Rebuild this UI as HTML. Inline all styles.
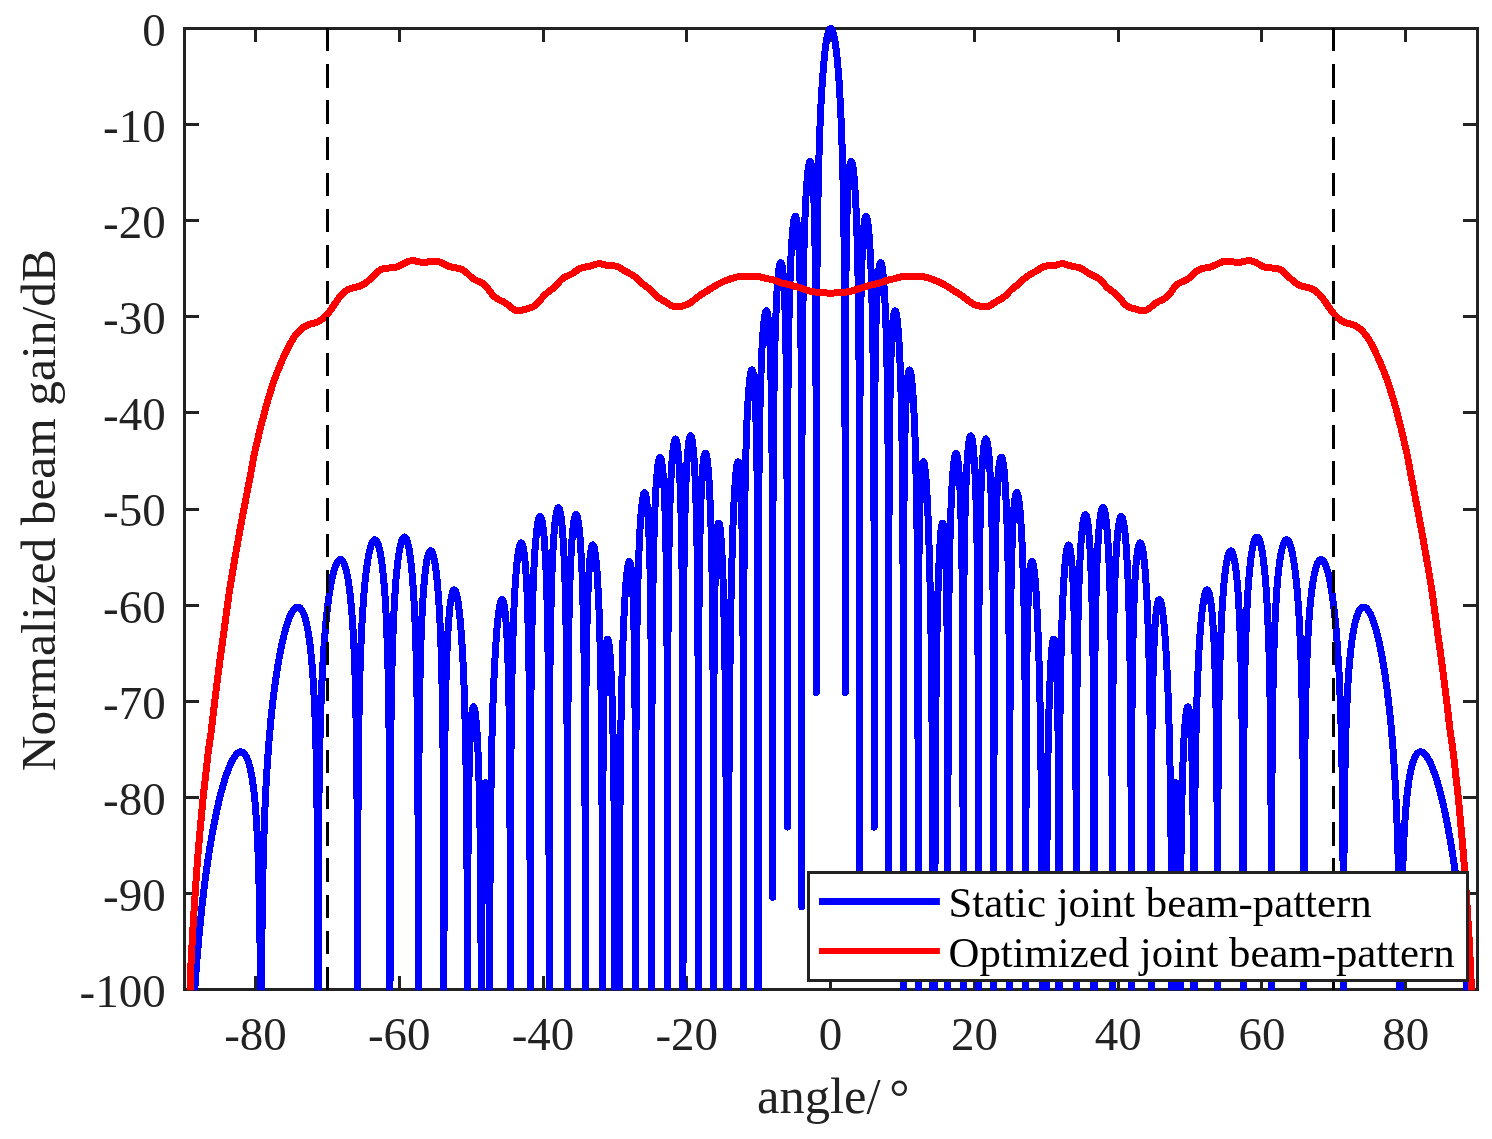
<!DOCTYPE html>
<html lang="en"><head><meta charset="utf-8"><title>Normalized beam gain</title>
<style>html,body{margin:0;padding:0;background:#fff}body{width:1492px;height:1139px;overflow:hidden}svg{display:block}</style>
</head><body>
<svg width="1492" height="1139" viewBox="0 0 1492 1139">
<defs><clipPath id="ax"><rect x="183.9" y="22.5" width="1294.2" height="967.7"/></clipPath></defs>
<rect width="1492" height="1139" fill="#fff"/>
<rect x="184.5" y="28.5" width="1293.0" height="961.0" fill="none" stroke="#222222" stroke-width="3.0"/>
<path d="M255.5 989.5V976.0M255.5 28.5V42.0M399.5 989.5V976.0M399.5 28.5V42.0M543.5 989.5V976.0M543.5 28.5V42.0M686.5 989.5V976.0M686.5 28.5V42.0M830.5 989.5V976.0M830.5 28.5V42.0M974.5 989.5V976.0M974.5 28.5V42.0M1118.5 989.5V976.0M1118.5 28.5V42.0M1261.5 989.5V976.0M1261.5 28.5V42.0M1405.5 989.5V976.0M1405.5 28.5V42.0M184.5 28.5H199.0M1477.5 28.5H1463.0M184.5 124.5H199.0M1477.5 124.5H1463.0M184.5 220.5H199.0M1477.5 220.5H1463.0M184.5 316.5H199.0M1477.5 316.5H1463.0M184.5 412.5H199.0M1477.5 412.5H1463.0M184.5 509.5H199.0M1477.5 509.5H1463.0M184.5 605.5H199.0M1477.5 605.5H1463.0M184.5 701.5H199.0M1477.5 701.5H1463.0M184.5 797.5H199.0M1477.5 797.5H1463.0M184.5 893.5H199.0M1477.5 893.5H1463.0M184.5 989.5H199.0M1477.5 989.5H1463.0" stroke="#222222" stroke-width="3.0" fill="none"/>
<g clip-path="url(#ax)" fill="none" stroke-linejoin="round" shape-rendering="crispEdges">
<polyline points="183.7,1325.8 184.1,1325.8 184.4,1325.8 184.8,1325.8 185.1,1325.8 185.5,1293.4 185.9,1263.0 186.2,1237.2 186.6,1214.9 186.9,1195.3 187.3,1177.7 187.7,1161.8 188.0,1147.2 188.4,1133.9 188.7,1121.5 189.1,1110.0 189.5,1099.2 189.8,1089.1 190.2,1079.6 190.5,1070.5 190.9,1062.0 191.2,1053.8 191.6,1046.1 192.0,1038.6 192.3,1031.5 192.7,1024.7 193.0,1018.2 193.4,1011.9 193.8,1005.8 194.1,1000.0 194.5,994.3 194.8,988.9 195.2,983.6 195.6,978.4 195.9,973.5 196.3,968.6 196.6,963.9 197.0,959.4 197.4,954.9 197.7,950.6 198.1,946.4 198.4,942.3 198.8,938.3 199.2,934.4 199.5,930.5 199.9,926.8 200.2,923.1 200.6,919.6 201.0,916.1 201.3,912.7 201.7,909.3 202.0,906.0 202.4,902.8 202.8,899.7 203.1,896.6 203.5,893.5 203.8,890.6 204.2,887.7 204.5,884.8 204.9,882.0 205.3,879.2 205.6,876.5 206.0,873.8 206.3,871.2 206.7,868.6 207.1,866.1 207.4,863.6 207.8,861.1 208.1,858.7 208.5,856.4 208.9,854.0 209.2,851.7 209.6,849.5 209.9,847.2 210.3,845.0 210.7,842.9 211.0,840.8 211.4,838.7 211.7,836.6 212.1,834.6 212.5,832.6 212.8,830.6 213.2,828.7 213.5,826.8 213.9,824.9 214.3,823.0 214.6,821.2 215.0,819.4 215.3,817.6 215.7,815.9 216.0,814.2 216.4,812.5 216.8,810.8 217.1,809.1 217.5,807.5 217.8,805.9 218.2,804.4 218.6,802.8 218.9,801.3 219.3,799.8 219.6,798.3 220.0,796.9 220.4,795.4 220.7,794.0 221.1,792.6 221.4,791.3 221.8,789.9 222.2,788.6 222.5,787.3 222.9,786.0 223.2,784.8 223.6,783.5 224.0,782.3 224.3,781.2 224.7,780.0 225.0,778.8 225.4,777.7 225.8,776.6 226.1,775.5 226.5,774.5 226.8,773.5 227.2,772.4 227.6,771.4 227.9,770.5 228.3,769.5 228.6,768.6 229.0,767.7 229.3,766.8 229.7,766.0 230.1,765.1 230.4,764.3 230.8,763.5 231.1,762.8 231.5,762.0 231.9,761.3 232.2,760.6 232.6,759.9 232.9,759.3 233.3,758.7 233.7,758.1 234.0,757.5 234.4,756.9 234.7,756.4 235.1,755.9 235.5,755.4 235.8,755.0 236.2,754.6 236.5,754.2 236.9,753.8 237.3,753.5 237.6,753.2 238.0,752.9 238.3,752.7 238.7,752.5 239.1,752.3 239.4,752.1 239.8,752.0 240.1,751.9 240.5,751.9 240.9,751.9 241.2,751.9 241.6,752.0 241.9,752.1 242.3,752.2 242.6,752.4 243.0,752.6 243.4,752.9 243.7,753.2 244.1,753.5 244.4,753.9 244.8,754.4 245.2,754.9 245.5,755.4 245.9,756.0 246.2,756.7 246.6,757.4 247.0,758.2 247.3,759.0 247.7,760.0 248.0,760.9 248.4,762.0 248.8,763.1 249.1,764.4 249.5,765.7 249.8,767.1 250.2,768.5 250.6,770.1 250.9,771.8 251.3,773.7 251.6,775.6 252.0,777.7 252.4,779.9 252.7,782.3 253.1,784.8 253.4,787.5 253.8,790.5 254.2,793.6 254.5,797.0 254.9,800.7 255.2,804.6 255.6,808.9 255.9,813.6 256.3,818.7 256.7,824.3 257.0,830.5 257.4,837.5 257.7,845.2 258.1,854.1 258.5,864.2 258.8,876.2 259.2,890.5 259.3,897.1 259.5,904.3 259.6,912.4 259.8,921.3 259.9,931.5 260.0,943.2 260.2,957.0 260.3,973.6 260.5,994.7 260.6,1023.3 260.8,1067.6 260.9,1170.1 261.0,1325.8 261.1,1139.9 261.2,1056.6 261.3,1015.5 261.5,987.8 261.6,966.9 261.8,950.1 261.9,936.0 262.1,923.8 262.2,913.1 262.3,903.6 262.5,894.9 262.6,887.0 262.8,879.7 263.1,863.7 263.5,850.0 263.9,838.1 264.2,827.4 264.6,817.8 264.9,809.0 265.3,800.9 265.7,793.5 266.0,786.5 266.4,779.9 266.7,773.8 267.1,767.9 267.5,762.4 267.8,757.1 268.2,752.1 268.5,747.3 268.9,742.7 269.2,738.3 269.6,734.1 270.0,730.0 270.3,726.0 270.7,722.2 271.0,718.5 271.4,715.0 271.8,711.5 272.1,708.2 272.5,704.9 272.8,701.8 273.2,698.7 273.6,695.7 273.9,692.8 274.3,690.0 274.6,687.2 275.0,684.6 275.4,681.9 275.7,679.4 276.1,676.9 276.4,674.5 276.8,672.1 277.2,669.8 277.5,667.6 277.9,665.4 278.2,663.2 278.6,661.1 279.0,659.1 279.3,657.1 279.7,655.1 280.0,653.2 280.4,651.4 280.8,649.6 281.1,647.8 281.5,646.1 281.8,644.4 282.2,642.7 282.5,641.1 282.9,639.6 283.3,638.0 283.6,636.5 284.0,635.1 284.3,633.7 284.7,632.3 285.1,631.0 285.4,629.7 285.8,628.4 286.1,627.2 286.5,626.0 286.9,624.8 287.2,623.7 287.6,622.6 287.9,621.6 288.3,620.6 288.7,619.6 289.0,618.6 289.4,617.7 289.7,616.9 290.1,616.0 290.5,615.2 290.8,614.4 291.2,613.7 291.5,613.0 291.9,612.4 292.3,611.7 292.6,611.2 293.0,610.6 293.3,610.1 293.7,609.6 294.0,609.2 294.4,608.8 294.8,608.4 295.1,608.1 295.5,607.8 295.8,607.6 296.2,607.4 296.6,607.2 296.9,607.1 297.3,607.0 297.6,607.0 298.0,607.0 298.4,607.1 298.7,607.2 299.1,607.4 299.4,607.6 299.8,607.8 300.2,608.1 300.5,608.5 300.9,608.9 301.2,609.3 301.6,609.8 302.0,610.4 302.3,611.0 302.7,611.7 303.0,612.5 303.4,613.3 303.8,614.2 304.1,615.2 304.5,616.2 304.8,617.3 305.2,618.5 305.6,619.8 305.9,621.2 306.3,622.6 306.6,624.2 307.0,625.8 307.3,627.6 307.7,629.5 308.1,631.5 308.4,633.6 308.8,635.8 309.1,638.2 309.5,640.8 309.9,643.5 310.2,646.5 310.6,649.6 310.9,652.9 311.3,656.5 311.7,660.3 312.0,664.4 312.4,668.9 312.7,673.7 313.1,679.0 313.5,684.7 313.8,691.0 314.2,697.9 314.5,705.7 314.9,714.4 315.3,724.3 315.6,735.7 316.0,749.2 316.3,762.0 316.4,769.3 316.6,777.4 316.7,786.3 316.8,796.5 317.0,808.0 317.1,821.6 317.3,837.8 317.4,858.1 317.6,885.2 317.7,925.8 317.8,1008.8 317.9,1325.8 318.0,1037.5 318.1,934.8 318.3,890.0 318.4,860.9 318.6,839.2 318.7,822.0 318.9,807.7 319.0,795.4 319.1,784.7 319.3,775.2 319.4,766.6 319.6,758.7 319.7,751.6 319.9,741.8 320.3,727.7 320.6,715.5 321.0,704.8 321.4,695.3 321.7,686.7 322.1,678.8 322.4,671.7 322.8,665.1 323.2,658.9 323.5,653.2 323.9,647.8 324.2,642.8 324.6,638.1 325.0,633.6 325.3,629.4 325.7,625.4 326.0,621.6 326.4,617.9 326.8,614.5 327.1,611.2 327.5,608.1 327.8,605.1 328.2,602.2 328.6,599.5 328.9,596.9 329.3,594.4 329.6,592.1 330.0,589.8 330.4,587.6 330.7,585.6 331.1,583.6 331.4,581.7 331.8,579.9 332.2,578.2 332.5,576.6 332.9,575.0 333.2,573.6 333.6,572.2 333.9,570.9 334.3,569.6 334.7,568.5 335.0,567.4 335.4,566.4 335.7,565.4 336.1,564.6 336.5,563.8 336.8,563.0 337.2,562.4 337.5,561.8 337.9,561.2 338.3,560.8 338.6,560.4 339.0,560.1 339.3,559.9 339.7,559.7 340.1,559.6 340.4,559.6 340.8,559.6 341.1,559.7 341.5,559.9 341.9,560.2 342.2,560.6 342.6,561.0 342.9,561.5 343.3,562.1 343.7,562.8 344.0,563.6 344.4,564.5 344.7,565.4 345.1,566.5 345.5,567.6 345.8,568.9 346.2,570.3 346.5,571.8 346.9,573.4 347.2,575.1 347.6,577.0 348.0,579.0 348.3,581.1 348.7,583.5 349.0,585.9 349.4,588.6 349.8,591.5 350.1,594.5 350.5,597.8 350.8,601.4 351.2,605.2 351.6,609.3 351.9,613.7 352.3,618.5 352.6,623.8 353.0,629.5 353.4,635.8 353.7,642.8 354.1,650.5 354.4,659.2 354.8,669.0 355.2,680.4 355.5,693.8 355.8,706.4 355.9,713.6 356.1,721.5 356.2,730.2 356.4,740.0 356.5,751.2 356.7,764.2 356.8,779.6 357.0,798.6 357.1,823.4 357.2,858.9 357.4,922.3 357.5,1325.8 357.5,1086.3 357.7,901.5 357.8,848.2 358.0,815.9 358.1,792.6 358.2,774.4 358.4,759.4 358.5,746.7 358.7,735.7 358.8,725.9 359.0,717.2 359.1,709.2 359.3,702.0 359.5,692.2 359.8,678.0 360.2,665.9 360.5,655.4 360.9,646.0 361.3,637.6 361.6,630.1 362.0,623.2 362.3,616.9 362.7,611.0 363.1,605.6 363.4,600.6 363.8,596.0 364.1,591.6 364.5,587.5 364.9,583.7 365.2,580.2 365.6,576.8 365.9,573.6 366.3,570.7 366.7,567.9 367.0,565.3 367.4,562.8 367.7,560.5 368.1,558.4 368.5,556.3 368.8,554.4 369.2,552.7 369.5,551.1 369.9,549.5 370.3,548.1 370.6,546.9 371.0,545.7 371.3,544.6 371.7,543.7 372.0,542.8 372.4,542.1 372.8,541.4 373.1,540.9 373.5,540.5 373.8,540.2 374.2,539.9 374.6,539.8 374.9,539.8 375.3,539.9 375.6,540.1 376.0,540.4 376.4,540.8 376.7,541.3 377.1,541.9 377.4,542.7 377.8,543.5 378.2,544.5 378.5,545.6 378.9,546.9 379.2,548.3 379.6,549.8 380.0,551.4 380.3,553.2 380.7,555.2 381.0,557.3 381.4,559.7 381.8,562.2 382.1,564.9 382.5,567.8 382.8,571.0 383.2,574.4 383.6,578.1 383.9,582.1 384.3,586.4 384.6,591.1 385.0,596.2 385.3,601.8 385.7,607.9 386.1,614.7 386.4,622.2 386.8,630.6 387.1,640.2 387.5,651.1 387.9,663.8 388.3,682.4 388.4,689.8 388.6,697.8 388.7,706.8 388.9,716.9 389.0,728.4 389.2,741.7 389.3,757.7 389.4,777.5 389.6,803.6 389.7,841.8 389.9,914.4 390.0,1325.8 390.0,993.4 390.2,866.4 390.3,818.1 390.5,787.8 390.6,765.5 390.7,748.0 390.9,733.5 391.0,721.2 391.2,710.4 391.3,700.9 391.5,692.4 391.6,684.7 391.7,677.7 391.8,674.3 392.2,659.6 392.5,647.1 392.9,636.3 393.3,626.9 393.6,618.5 394.0,611.0 394.3,604.2 394.7,598.0 395.1,592.4 395.4,587.2 395.8,582.5 396.1,578.1 396.5,574.0 396.9,570.2 397.2,566.8 397.6,563.6 397.9,560.6 398.3,557.8 398.6,555.3 399.0,552.9 399.4,550.8 399.7,548.8 400.1,547.0 400.4,545.3 400.8,543.9 401.2,542.5 401.5,541.4 401.9,540.3 402.2,539.4 402.6,538.7 403.0,538.1 403.3,537.6 403.7,537.3 404.0,537.1 404.4,537.0 404.8,537.1 405.1,537.3 405.5,537.6 405.8,538.1 406.2,538.7 406.6,539.5 406.9,540.4 407.3,541.5 407.6,542.7 408.0,544.1 408.4,545.6 408.7,547.3 409.1,549.2 409.4,551.3 409.8,553.5 410.1,556.0 410.5,558.7 410.9,561.6 411.2,564.8 411.6,568.3 411.9,572.0 412.3,576.1 412.7,580.5 413.0,585.3 413.4,590.5 413.7,596.3 414.1,602.6 414.5,609.6 414.8,617.3 415.2,626.0 415.5,635.8 415.9,647.1 416.3,660.3 416.6,676.2 416.8,683.5 416.9,691.5 417.1,700.5 417.2,710.4 417.3,721.8 417.5,735.0 417.6,750.7 417.8,770.0 417.9,795.1 418.1,831.3 418.2,896.6 418.3,1325.8 418.3,1038.1 418.5,870.6 418.6,818.6 418.8,786.8 418.9,763.9 419.1,746.0 419.2,731.3 419.4,718.9 419.5,708.1 419.6,698.5 419.8,690.0 419.9,682.3 420.1,675.3 420.2,668.9 420.6,654.8 420.9,642.9 421.3,632.7 421.7,623.8 422.0,615.9 422.4,608.8 422.7,602.5 423.1,596.8 423.4,591.6 423.8,586.9 424.2,582.6 424.5,578.7 424.9,575.2 425.2,572.0 425.6,569.0 426.0,566.3 426.3,563.9 426.7,561.7 427.0,559.8 427.4,558.0 427.8,556.5 428.1,555.1 428.5,554.0 428.8,553.0 429.2,552.2 429.6,551.6 429.9,551.2 430.3,550.9 430.6,550.8 431.0,550.9 431.4,551.1 431.7,551.5 432.1,552.1 432.4,552.9 432.8,553.8 433.2,554.9 433.5,556.2 433.9,557.6 434.2,559.3 434.6,561.1 435.0,563.2 435.3,565.4 435.7,567.9 436.0,570.6 436.4,573.6 436.7,576.8 437.1,580.4 437.5,584.2 437.8,588.3 438.2,592.9 438.5,597.8 438.9,603.1 439.3,609.0 439.6,615.4 440.0,622.5 440.3,630.4 440.7,639.2 441.1,649.1 441.4,660.5 441.8,673.7 442.2,692.9 442.4,700.4 442.5,708.7 442.6,717.9 442.8,728.2 442.9,739.9 443.1,753.5 443.2,769.7 443.4,789.7 443.5,816.0 443.7,854.4 443.8,927.1 443.9,1325.8 443.9,1007.1 444.1,879.9 444.2,831.9 444.4,801.8 444.5,779.8 444.7,762.5 444.8,748.3 444.9,736.3 445.1,725.8 445.2,716.6 445.4,708.4 445.5,701.0 445.7,694.2 445.7,691.0 446.1,677.0 446.5,665.4 446.8,655.5 447.2,646.9 447.5,639.4 447.9,632.8 448.3,627.0 448.6,621.8 449.0,617.2 449.3,613.0 449.7,609.4 450.0,606.1 450.4,603.2 450.8,600.6 451.1,598.4 451.5,596.4 451.8,594.8 452.2,593.4 452.6,592.2 452.9,591.3 453.3,590.6 453.6,590.2 454.0,589.9 454.4,589.9 454.7,590.1 455.1,590.5 455.4,591.1 455.8,592.0 456.2,593.0 456.5,594.3 456.9,595.7 457.2,597.4 457.6,599.3 458.0,601.4 458.3,603.8 458.7,606.4 459.0,609.2 459.4,612.3 459.8,615.7 460.1,619.4 460.5,623.3 460.8,627.6 461.2,632.3 461.6,637.3 461.9,642.7 462.3,648.6 462.6,655.0 463.0,661.9 463.3,669.5 463.7,677.9 464.1,687.1 464.4,697.4 464.8,708.9 465.1,722.1 465.5,737.4 465.8,751.8 465.9,759.9 466.1,768.7 466.2,778.5 466.4,789.4 466.5,801.8 466.7,816.1 466.8,833.1 466.9,854.1 467.1,881.8 467.2,922.6 467.4,1003.1 467.5,1325.8 467.5,1046.5 467.7,938.8 467.8,894.1 467.9,865.6 468.1,844.8 468.2,828.5 468.4,815.1 468.5,803.9 468.7,794.2 468.8,785.8 469.0,778.3 469.1,771.7 469.2,765.7 469.5,757.7 469.8,746.7 470.2,737.7 470.5,730.5 470.9,724.5 471.3,719.6 471.6,715.7 472.0,712.6 472.3,710.2 472.7,708.5 473.1,707.4 473.4,706.8 473.8,706.9 474.1,707.5 474.5,708.6 474.9,710.3 475.2,712.5 475.6,715.2 475.9,718.6 476.3,722.5 476.6,727.1 477.0,732.5 477.4,738.6 477.7,745.6 478.1,753.6 478.4,762.9 478.8,773.6 479.2,786.2 479.5,801.3 479.6,804.6 479.7,811.8 479.9,819.7 480.0,828.3 480.2,837.9 480.3,848.8 480.5,861.1 480.6,875.5 480.7,892.8 480.9,914.4 481.0,943.2 481.2,986.9 481.3,1081.4 481.4,1325.8 481.5,1075.7 481.6,986.8 481.8,945.4 481.9,918.2 482.0,898.2 482.2,882.4 482.3,869.5 482.5,858.6 482.6,849.2 482.8,841.0 482.9,833.8 483.0,827.4 483.5,812.1 483.8,802.5 484.2,795.2 484.6,789.7 484.9,785.9 485.3,783.5 485.6,782.6 486.0,783.0 486.4,784.9 486.7,788.5 487.1,793.9 487.4,801.6 487.8,812.2 487.9,817.5 488.1,823.6 488.2,830.6 488.4,838.7 488.5,848.3 488.7,859.7 488.8,873.6 488.9,891.2 489.1,914.7 489.2,949.2 489.4,1012.8 489.5,1325.8 489.5,1152.8 489.7,983.7 489.8,930.1 489.9,896.9 490.1,872.5 490.2,853.2 490.4,837.0 490.5,823.2 490.7,811.0 490.8,800.1 491.0,790.3 491.1,781.3 491.2,773.0 491.4,765.3 491.7,748.2 492.1,733.4 492.5,720.4 492.8,708.8 493.2,698.3 493.5,688.8 493.9,680.2 494.3,672.2 494.6,664.9 495.0,658.1 495.3,651.9 495.7,646.1 496.1,640.7 496.4,635.8 496.8,631.2 497.1,627.0 497.5,623.1 497.9,619.5 498.2,616.3 498.6,613.4 498.9,610.7 499.3,608.3 499.7,606.3 500.0,604.5 500.4,602.9 500.7,601.7 501.1,600.7 501.4,600.1 501.8,599.7 502.2,599.6 502.5,599.8 502.9,600.3 503.2,601.2 503.6,602.4 504.0,603.9 504.3,605.9 504.7,608.3 505.0,611.1 505.4,614.5 505.8,618.4 506.1,623.0 506.5,628.2 506.8,634.4 507.2,641.5 507.6,649.9 507.9,659.8 508.3,671.7 508.6,686.4 508.8,693.4 508.9,701.0 509.1,709.7 509.2,719.4 509.4,730.6 509.5,743.8 509.6,759.7 509.8,779.7 509.9,806.3 510.1,846.3 510.2,927.5 510.3,1325.8 510.4,962.1 510.5,856.6 510.7,811.1 510.8,781.6 510.9,759.7 511.1,742.3 511.2,727.8 511.4,715.3 511.5,704.5 511.7,694.8 511.8,686.1 511.9,678.2 512.1,670.9 512.2,664.2 512.6,649.5 513.0,636.9 513.3,626.0 513.7,616.4 514.0,607.9 514.4,600.3 514.7,593.4 515.1,587.2 515.5,581.5 515.8,576.4 516.2,571.8 516.5,567.6 516.9,563.7 517.3,560.3 517.6,557.2 518.0,554.4 518.3,552.0 518.7,549.8 519.1,548.0 519.4,546.4 519.8,545.1 520.1,544.1 520.5,543.4 520.9,543.0 521.2,542.8 521.6,543.0 521.9,543.4 522.3,544.1 522.7,545.2 523.0,546.6 523.4,548.3 523.7,550.3 524.1,552.8 524.5,555.7 524.8,559.0 525.2,562.8 525.5,567.2 525.9,572.2 526.3,577.9 526.6,584.4 527.0,591.9 527.3,600.7 527.7,610.8 528.0,623.0 528.3,634.5 528.5,641.1 528.6,648.3 528.8,656.3 528.9,665.2 529.1,675.4 529.2,687.0 529.3,700.7 529.5,717.2 529.6,738.0 529.8,766.0 529.9,808.7 530.1,902.0 530.1,1325.8 530.2,896.5 530.3,806.3 530.5,763.9 530.6,735.8 530.8,714.7 530.9,697.9 531.1,683.9 531.2,671.9 531.4,661.4 531.5,652.0 531.6,643.7 531.8,636.0 532.0,625.8 532.4,611.2 532.7,598.9 533.1,588.3 533.4,579.1 533.8,571.0 534.2,563.8 534.5,557.3 534.9,551.6 535.2,546.4 535.6,541.8 536.0,537.7 536.3,534.0 536.7,530.7 537.0,527.8 537.4,525.3 537.8,523.1 538.1,521.2 538.5,519.7 538.8,518.4 539.2,517.5 539.6,516.9 539.9,516.6 540.3,516.5 540.6,516.8 541.0,517.4 541.3,518.3 541.7,519.6 542.1,521.1 542.4,523.1 542.8,525.4 543.1,528.1 543.5,531.2 543.9,534.8 544.2,538.9 544.6,543.6 544.9,548.9 545.3,555.0 545.7,561.9 546.0,569.8 546.4,578.9 546.7,589.6 547.1,602.3 547.5,617.8 547.6,625.0 547.7,632.9 547.9,641.8 548.0,651.8 548.2,663.3 548.3,676.7 548.5,692.7 548.6,712.7 548.8,739.2 548.9,778.3 549.0,854.9 549.1,1325.8 549.2,911.8 549.3,796.4 549.5,749.7 549.6,720.0 549.8,698.1 549.9,680.7 550.0,666.4 550.2,654.2 550.3,643.6 550.5,634.2 550.6,625.8 550.8,618.2 550.9,611.3 551.1,604.9 551.4,591.0 551.8,579.3 552.1,569.3 552.5,560.6 552.8,553.0 553.2,546.3 553.6,540.4 553.9,535.1 554.3,530.5 554.6,526.4 555.0,522.7 555.4,519.6 555.7,516.8 556.1,514.4 556.4,512.4 556.8,510.8 557.2,509.5 557.5,508.5 557.9,507.9 558.2,507.6 558.6,507.6 559.0,508.0 559.3,508.6 559.7,509.7 560.0,511.0 560.4,512.7 560.8,514.8 561.1,517.2 561.5,520.1 561.8,523.4 562.2,527.2 562.6,531.6 562.9,536.5 563.3,542.0 563.6,548.3 564.0,555.5 564.4,563.7 564.7,573.1 565.1,584.2 565.4,597.2 565.7,609.7 565.9,616.7 566.0,624.5 566.1,633.1 566.3,642.8 566.4,653.7 566.6,666.4 566.7,681.5 566.9,699.8 567.0,723.5 567.2,756.7 567.3,812.5 567.4,1067.6 567.4,1325.8 567.6,820.9 567.7,761.0 567.9,726.5 568.0,702.3 568.2,683.5 568.3,668.3 568.4,655.5 568.6,644.5 568.7,634.8 568.9,626.2 569.0,618.4 569.2,611.4 569.4,602.0 569.7,588.6 570.1,577.3 570.5,567.8 570.8,559.6 571.2,552.4 571.5,546.2 571.9,540.7 572.3,535.9 572.6,531.8 573.0,528.1 573.3,525.0 573.7,522.3 574.1,520.1 574.4,518.3 574.8,516.8 575.1,515.8 575.5,515.1 575.9,514.7 576.2,514.7 576.6,515.1 576.9,515.8 577.3,516.8 577.7,518.3 578.0,520.0 578.4,522.2 578.7,524.8 579.1,527.8 579.4,531.2 579.8,535.1 580.2,539.5 580.5,544.6 580.9,550.2 581.2,556.6 581.6,563.8 582.0,572.0 582.3,581.4 582.7,592.3 583.0,605.0 583.4,620.3 583.5,627.3 583.7,635.0 583.8,643.6 584.0,653.0 584.1,663.8 584.3,676.1 584.4,690.5 584.6,707.9 584.7,729.8 584.8,759.5 585.0,805.9 585.1,918.1 585.2,1325.8 585.3,868.2 585.4,790.3 585.6,751.0 585.7,724.5 585.8,704.6 586.0,688.7 586.1,675.5 586.3,664.2 586.4,654.3 586.6,645.6 586.7,637.8 586.9,630.8 587.0,624.4 587.4,610.7 587.7,599.4 588.1,590.0 588.4,582.0 588.8,575.1 589.2,569.3 589.5,564.2 589.9,559.9 590.2,556.3 590.6,553.2 591.0,550.7 591.3,548.6 591.7,547.1 592.0,545.9 592.4,545.2 592.7,544.9 593.1,545.0 593.5,545.5 593.8,546.4 594.2,547.6 594.5,549.3 594.9,551.3 595.3,553.7 595.6,556.6 596.0,559.9 596.3,563.6 596.7,567.8 597.1,572.6 597.4,577.9 597.8,583.8 598.1,590.4 598.5,597.8 598.9,606.0 599.2,615.3 599.6,625.9 599.9,638.0 600.3,652.0 600.7,668.7 600.8,676.3 600.9,684.7 601.1,693.9 601.2,704.1 601.4,715.6 601.5,728.8 601.7,744.3 601.8,762.9 601.9,786.6 602.1,819.2 602.2,871.9 602.4,1039.6 602.4,1325.8 602.5,900.0 602.7,835.6 602.8,800.3 603.0,776.1 603.1,757.7 603.2,743.0 603.4,730.9 603.5,720.6 603.7,711.6 603.8,703.8 604.0,696.9 604.1,690.7 604.2,685.2 604.6,673.6 605.0,664.4 605.3,657.2 605.7,651.5 606.0,647.0 606.4,643.7 606.8,641.2 607.1,639.7 607.5,639.0 607.8,639.0 608.2,639.8 608.6,641.3 608.9,643.4 609.3,646.4 609.6,650.0 610.0,654.4 610.4,659.7 610.7,665.8 611.1,672.9 611.4,681.0 611.8,690.4 612.2,701.2 612.5,713.7 612.9,728.4 613.3,749.7 613.5,758.1 613.6,767.2 613.7,777.2 613.9,788.3 614.0,800.9 614.2,815.2 614.3,832.0 614.5,852.3 614.6,878.1 614.7,913.9 614.9,973.7 615.0,1325.8 615.2,978.1 615.3,922.6 615.5,891.2 615.6,869.9 615.8,854.0 615.9,841.8 616.0,832.1 616.2,824.3 616.3,818.0 616.5,813.0 616.6,809.1 616.8,806.2 616.8,805.1 617.2,802.6 617.5,804.4 617.6,806.6 617.8,809.8 617.9,814.1 618.1,819.6 618.2,826.7 618.3,835.8 618.5,847.5 618.6,862.8 618.8,883.8 618.9,915.4 619.1,973.0 619.2,1325.8 619.2,1190.4 619.3,955.9 619.5,897.9 619.6,862.3 619.8,836.2 619.9,815.3 620.1,797.9 620.2,782.9 620.4,769.6 620.5,757.7 620.6,746.9 620.8,737.0 620.9,727.9 621.1,715.4 621.5,697.1 621.9,681.2 622.2,667.2 622.6,654.8 622.9,643.6 623.3,633.6 623.7,624.4 624.0,616.2 624.4,608.6 624.7,601.8 625.1,595.6 625.5,590.0 625.8,584.9 626.2,580.4 626.5,576.4 626.9,572.9 627.3,569.8 627.6,567.2 628.0,565.1 628.3,563.5 628.7,562.3 629.1,561.6 629.4,561.4 629.8,561.7 630.1,562.6 630.5,564.0 630.8,566.1 631.2,568.8 631.6,572.3 631.9,576.7 632.3,582.0 632.6,588.5 633.0,596.5 633.4,606.2 633.7,618.2 633.9,623.9 634.0,630.2 634.2,637.2 634.3,645.0 634.4,653.9 634.6,664.1 634.7,676.0 634.9,690.2 635.0,707.7 635.2,730.5 635.3,762.5 635.4,816.4 635.6,1029.7 635.6,1325.8 635.7,829.1 635.9,766.9 636.0,731.3 636.2,706.1 636.3,686.6 636.5,670.7 636.6,657.2 636.7,645.5 636.9,635.1 637.0,625.9 637.2,617.5 637.3,609.9 637.7,593.2 638.0,579.3 638.4,567.4 638.8,557.1 639.1,548.0 639.5,540.0 639.8,532.8 640.2,526.5 640.6,520.8 640.9,515.8 641.3,511.4 641.6,507.4 642.0,504.0 642.4,501.1 642.7,498.6 643.1,496.5 643.4,494.9 643.8,493.7 644.1,493.0 644.5,492.6 644.9,492.8 645.2,493.3 645.6,494.3 645.9,495.9 646.3,497.9 646.7,500.5 647.0,503.7 647.4,507.6 647.7,512.3 648.1,517.8 648.5,524.3 648.8,532.0 649.2,541.2 649.5,552.3 650.0,569.1 650.1,575.8 650.3,583.2 650.4,591.5 650.5,600.8 650.7,611.5 650.8,624.0 651.0,638.9 651.1,657.3 651.3,681.3 651.4,715.5 651.6,775.3 651.7,1325.8 651.7,1015.4 651.8,765.8 652.0,709.8 652.1,676.4 652.3,652.5 652.4,633.9 652.6,618.6 652.7,605.7 652.8,594.4 653.0,584.5 653.1,575.7 653.3,567.7 653.4,560.4 653.5,557.0 653.9,541.9 654.2,529.2 654.6,518.4 654.9,509.1 655.3,501.0 655.7,493.9 656.0,487.6 656.4,482.1 656.7,477.3 657.1,473.0 657.4,469.4 657.8,466.2 658.2,463.6 658.5,461.4 658.9,459.7 659.2,458.4 659.6,457.6 660.0,457.2 660.3,457.2 660.7,457.7 661.0,458.7 661.4,460.1 661.8,462.0 662.1,464.4 662.5,467.4 662.8,471.0 663.2,475.3 663.6,480.4 663.9,486.3 664.3,493.3 664.6,501.5 665.0,511.1 665.4,522.7 665.8,540.1 665.9,547.0 666.1,554.7 666.2,563.3 666.4,572.9 666.5,584.0 666.6,596.9 666.8,612.4 666.9,631.5 667.1,656.6 667.2,693.0 667.4,759.5 667.5,1325.8 667.5,884.3 667.7,728.3 667.8,677.0 667.9,645.4 668.1,622.5 668.2,604.5 668.4,589.8 668.5,577.3 668.7,566.4 668.8,556.8 669.0,548.2 669.1,540.5 669.2,533.5 669.3,530.2 669.7,515.6 670.0,503.4 670.4,493.1 670.7,484.3 671.1,476.7 671.5,470.0 671.8,464.2 672.2,459.2 672.5,454.8 672.9,451.0 673.3,447.8 673.6,445.2 674.0,443.0 674.3,441.3 674.7,440.1 675.1,439.4 675.4,439.0 675.8,439.2 676.1,439.8 676.5,440.8 676.9,442.3 677.2,444.4 677.6,446.9 677.9,450.0 678.3,453.8 678.7,458.2 679.0,463.3 679.4,469.3 679.7,476.2 680.1,484.4 680.5,493.9 680.8,505.3 681.2,519.0 681.3,525.4 681.5,532.4 681.6,540.1 681.7,548.6 681.9,558.3 682.0,569.2 682.2,582.0 682.3,597.2 682.5,615.9 682.6,640.1 682.8,674.5 682.9,734.4 683.0,1325.8 683.0,982.2 683.2,726.2 683.3,670.3 683.5,637.2 683.6,613.5 683.8,595.2 683.9,580.2 684.0,567.6 684.2,556.7 684.3,547.1 684.5,538.5 684.6,530.8 684.8,523.8 685.1,508.9 685.5,496.5 685.8,486.2 686.2,477.4 686.6,469.9 686.9,463.4 687.3,457.8 687.6,453.0 688.0,448.9 688.4,445.4 688.7,442.5 689.1,440.2 689.4,438.4 689.8,437.1 690.2,436.2 690.5,435.8 690.9,435.9 691.2,436.5 691.6,437.5 692.0,439.0 692.3,441.0 692.7,443.5 693.0,446.6 693.4,450.3 693.8,454.6 694.1,459.6 694.5,465.4 694.8,472.0 695.2,479.8 695.5,488.8 695.9,499.3 696.3,511.9 696.7,530.5 696.8,537.9 697.0,546.1 697.1,555.2 697.3,565.5 697.4,577.2 697.6,591.0 697.7,607.5 697.8,628.1 698.0,655.6 698.1,696.7 698.3,780.9 698.4,1325.8 698.4,806.6 698.6,705.6 698.7,661.4 698.9,632.8 699.0,611.7 699.1,595.0 699.3,581.2 699.4,569.4 699.6,559.3 699.7,550.3 699.9,542.3 700.0,535.1 700.1,528.6 700.2,525.5 700.6,512.1 700.9,501.1 701.3,492.0 701.7,484.2 702.0,477.7 702.4,472.1 702.7,467.5 703.1,463.6 703.5,460.4 703.8,457.8 704.2,455.8 704.5,454.4 704.9,453.5 705.3,453.1 705.6,453.2 706.0,453.8 706.3,454.9 706.7,456.5 707.1,458.6 707.4,461.2 707.8,464.4 708.1,468.1 708.5,472.4 708.8,477.4 709.2,483.2 709.6,489.7 709.9,497.2 710.3,505.7 710.6,515.4 711.0,526.7 711.4,540.0 711.8,559.4 711.9,567.0 712.1,575.4 712.2,584.6 712.4,595.0 712.5,606.7 712.7,620.2 712.8,636.2 712.9,655.8 713.1,681.1 713.2,717.1 713.4,780.3 713.5,1325.8 713.5,960.2 713.7,764.2 713.8,711.1 714.0,679.4 714.1,656.9 714.2,639.5 714.4,625.5 714.5,613.7 714.7,603.7 714.8,595.0 715.0,587.3 715.1,580.5 715.2,574.4 715.3,571.6 715.7,559.5 716.0,549.9 716.4,542.3 716.8,536.3 717.1,531.6 717.5,528.1 717.8,525.5 718.2,523.8 718.6,523.0 718.9,523.0 719.3,523.7 719.6,525.2 720.0,527.4 720.4,530.4 720.7,534.1 721.1,538.6 721.4,544.0 721.8,550.2 722.1,557.3 722.5,565.6 722.9,574.9 723.2,585.6 723.6,597.9 723.9,611.9 724.3,628.2 724.7,647.4 724.9,660.6 725.0,670.3 725.2,680.9 725.3,692.4 725.5,705.2 725.6,719.4 725.7,735.6 725.9,754.3 726.0,776.5 726.2,804.0 726.3,840.9 726.5,899.2 726.6,1088.5 726.6,1325.8 726.7,931.7 726.9,874.8 727.0,846.5 727.2,829.9 727.3,820.0 727.5,815.0 727.6,814.2 727.8,817.4 727.9,825.4 728.0,839.5 728.2,863.8 728.3,910.4 728.5,1108.4 728.5,1325.8 728.6,912.6 728.8,844.6 728.9,803.8 729.0,773.9 729.2,749.9 729.3,729.8 729.5,712.4 729.6,697.0 729.8,683.1 729.9,670.5 730.1,659.0 730.2,648.3 730.4,633.7 730.8,612.3 731.1,593.7 731.5,577.5 731.9,563.0 732.2,550.1 732.6,538.5 732.9,528.0 733.3,518.6 733.7,510.0 734.0,502.3 734.4,495.4 734.7,489.2 735.1,483.7 735.4,478.8 735.8,474.5 736.2,470.9 736.5,467.8 736.9,465.4 737.2,463.6 737.6,462.4 738.0,461.8 738.3,461.9 738.7,462.7 739.0,464.3 739.4,466.8 739.8,470.2 740.1,474.7 740.5,480.4 740.8,487.8 741.2,497.1 741.6,509.1 741.7,514.8 741.8,521.2 742.0,528.5 742.1,536.7 742.3,546.2 742.4,557.3 742.6,570.5 742.7,586.7 742.9,607.5 743.0,636.2 743.1,681.7 743.3,795.2 743.3,1325.8 743.4,739.0 743.6,661.1 743.7,620.9 743.9,593.4 744.0,572.5 744.1,555.5 744.3,541.2 744.4,528.8 744.6,517.9 744.7,508.2 744.9,499.3 745.0,491.3 745.2,483.9 745.5,467.6 745.9,453.9 746.2,442.0 746.6,431.7 746.9,422.6 747.3,414.5 747.7,407.3 748.0,400.9 748.4,395.2 748.7,390.2 749.1,385.8 749.5,382.0 749.8,378.7 750.2,375.9 750.5,373.7 750.9,372.0 751.3,370.7 751.6,370.0 752.0,369.9 752.3,370.2 752.7,371.2 753.1,372.7 753.4,374.9 753.8,377.9 754.1,381.6 754.5,386.2 754.9,391.9 755.2,398.9 755.6,407.3 755.9,417.8 756.4,433.8 756.5,440.3 756.7,447.5 756.8,455.7 756.9,464.9 757.1,475.6 757.2,488.1 757.4,503.2 757.5,522.1 757.7,547.0 757.8,583.3 757.9,650.9 758.1,1325.8 758.1,761.4 758.2,614.3 758.4,563.5 758.5,531.8 758.7,508.7 758.8,490.4 759.0,475.4 759.1,462.5 759.2,451.3 759.4,441.3 759.5,432.4 759.7,424.3 759.8,417.0 759.9,413.5 760.2,398.0 760.6,385.0 761.0,373.9 761.3,364.2 761.7,355.8 762.0,348.3 762.4,341.8 762.8,336.0 763.1,331.0 763.5,326.5 763.8,322.7 764.2,319.5 764.6,316.7 764.9,314.5 765.3,312.8 765.6,311.6 766.0,311.0 766.4,310.8 766.7,311.1 767.1,312.0 767.4,313.5 767.8,315.6 768.2,318.4 768.5,321.9 768.9,326.2 769.2,331.4 769.6,337.8 770.0,345.4 770.3,354.7 770.7,366.1 771.0,380.3 771.2,387.0 771.3,394.6 771.5,403.0 771.6,412.7 771.8,423.8 771.9,436.9 772.0,452.7 772.2,472.6 772.3,499.3 772.5,539.4 772.6,621.4 772.7,897.2 772.8,652.2 772.9,548.3 773.0,503.0 773.2,473.6 773.3,451.8 773.5,434.4 773.6,419.9 773.8,407.5 773.9,396.7 774.1,387.1 774.2,378.4 774.3,370.6 774.5,363.4 774.6,356.8 775.0,342.4 775.3,330.2 775.7,319.7 776.1,310.7 776.4,302.8 776.8,295.8 777.1,289.7 777.5,284.4 777.9,279.7 778.2,275.7 778.6,272.2 778.9,269.3 779.3,266.9 779.7,265.1 780.0,263.7 780.4,262.9 780.7,262.6 781.1,262.7 781.5,263.5 781.8,264.7 782.2,266.6 782.5,269.1 782.9,272.3 783.3,276.2 783.6,281.1 784.0,286.9 784.3,293.9 784.7,302.4 785.1,312.7 785.4,325.4 785.6,331.4 785.7,338.0 785.8,345.3 786.0,353.5 786.1,362.8 786.3,373.4 786.4,385.9 786.6,400.8 786.7,419.4 786.8,443.7 787.0,478.7 787.1,541.4 787.3,827.1 787.3,710.1 787.4,521.0 787.6,467.2 787.7,434.5 787.9,410.9 788.0,392.4 788.1,377.2 788.3,364.3 788.4,353.1 788.6,343.2 788.7,334.3 788.9,326.2 789.0,318.9 789.4,303.0 789.7,289.8 790.1,278.5 790.4,268.8 790.8,260.3 791.2,252.9 791.5,246.4 791.9,240.7 792.2,235.7 792.6,231.4 793.0,227.6 793.3,224.5 793.7,221.8 794.0,219.7 794.4,218.1 794.8,217.0 795.1,216.4 795.5,216.3 795.8,216.7 796.2,217.7 796.6,219.2 796.9,221.4 797.3,224.2 797.6,227.8 798.0,232.2 798.4,237.5 798.7,244.0 799.1,251.8 799.4,261.2 799.8,272.8 800.1,284.2 800.2,290.7 800.4,298.1 800.5,306.3 800.7,315.6 800.8,326.4 800.9,339.0 801.1,354.1 801.2,373.0 801.4,397.9 801.5,434.2 801.7,501.6 801.8,906.9 801.8,615.1 801.9,466.1 802.1,415.1 802.2,383.4 802.4,360.3 802.5,342.1 802.7,327.1 802.8,314.2 803.0,303.1 803.1,293.2 803.2,284.3 803.4,276.2 803.5,268.9 803.7,258.9 804.1,244.6 804.5,232.4 804.8,221.9 805.2,212.8 805.5,204.7 805.9,197.7 806.3,191.4 806.6,185.9 807.0,181.0 807.3,176.7 807.7,173.0 808.1,169.8 808.4,167.2 808.8,165.0 809.1,163.4 809.5,162.2 809.9,161.5 810.2,161.3 810.6,161.7 810.9,162.6 811.3,164.1 811.6,166.2 812.0,169.0 812.4,172.6 812.7,177.1 813.1,182.6 813.4,189.4 813.8,197.7 814.2,207.9 814.5,218.0 814.6,223.9 814.7,230.4 814.9,237.7 815.0,246.0 815.2,255.4 815.3,266.4 815.5,279.4 815.6,295.3 815.7,315.6 815.9,343.1 816.0,385.7 816.2,481.2 816.2,692.6 816.3,467.1 816.5,378.7 816.6,336.0 816.8,307.5 816.9,285.9 817.0,268.5 817.2,253.9 817.3,241.3 817.5,230.1 817.6,220.2 817.8,211.2 817.9,202.9 818.1,191.7 818.5,175.6 818.8,161.7 819.2,149.5 819.6,138.7 819.9,129.0 820.3,120.2 820.6,112.1 821.0,104.7 821.4,97.9 821.7,91.7 822.1,85.8 822.4,80.4 822.8,75.4 823.2,70.8 823.5,66.4 823.9,62.4 824.2,58.6 824.6,55.1 824.9,51.9 825.3,48.9 825.7,46.2 826.0,43.7 826.4,41.3 826.7,39.2 827.1,37.3 827.5,35.6 827.8,34.1 828.2,32.8 828.5,31.6 828.9,30.7 829.3,29.9 829.6,29.3 830.0,28.8 830.3,28.6 830.7,28.5 831.1,28.6 831.4,28.8 831.8,29.3 832.1,29.9 832.5,30.7 832.9,31.6 833.2,32.8 833.6,34.1 833.9,35.6 834.3,37.3 834.7,39.2 835.0,41.3 835.4,43.7 835.7,46.2 836.1,48.9 836.5,51.9 836.8,55.1 837.2,58.6 837.5,62.4 837.9,66.4 838.2,70.8 838.6,75.4 839.0,80.4 839.3,85.8 839.7,91.7 840.0,97.9 840.4,104.7 840.8,112.1 841.1,120.2 841.5,129.0 841.8,138.7 842.2,149.5 842.6,161.7 842.9,175.6 843.3,191.7 843.5,202.9 843.6,211.2 843.8,220.2 843.9,230.1 844.1,241.3 844.2,253.9 844.4,268.5 844.5,285.9 844.6,307.5 844.8,336.0 844.9,378.7 845.1,467.1 845.2,692.6 845.2,481.2 845.4,385.7 845.5,343.1 845.7,315.6 845.8,295.3 845.9,279.4 846.1,266.4 846.2,255.4 846.4,246.0 846.5,237.7 846.7,230.4 846.8,223.9 846.9,218.0 847.2,207.9 847.6,197.7 848.0,189.4 848.3,182.6 848.7,177.1 849.0,172.6 849.4,169.0 849.8,166.2 850.1,164.1 850.5,162.6 850.8,161.7 851.2,161.3 851.5,161.5 851.9,162.2 852.3,163.4 852.6,165.0 853.0,167.2 853.3,169.8 853.7,173.0 854.1,176.7 854.4,181.0 854.8,185.9 855.1,191.4 855.5,197.7 855.9,204.7 856.2,212.8 856.6,221.9 856.9,232.4 857.3,244.6 857.7,258.9 857.9,268.9 858.0,276.2 858.2,284.3 858.3,293.2 858.4,303.1 858.6,314.2 858.7,327.1 858.9,342.1 859.0,360.3 859.2,383.4 859.3,415.1 859.5,466.1 859.6,615.1 859.6,906.9 859.7,501.6 859.9,434.2 860.0,397.9 860.2,373.0 860.3,354.1 860.5,339.0 860.6,326.4 860.7,315.6 860.9,306.3 861.0,298.1 861.2,290.7 861.3,284.2 861.6,272.8 862.0,261.2 862.3,251.8 862.7,244.0 863.1,237.5 863.4,232.2 863.8,227.8 864.1,224.2 864.5,221.4 864.8,219.2 865.2,217.7 865.6,216.7 865.9,216.3 866.3,216.4 866.6,217.0 867.0,218.1 867.4,219.7 867.7,221.8 868.1,224.5 868.4,227.6 868.8,231.4 869.2,235.7 869.5,240.7 869.9,246.4 870.2,252.9 870.6,260.3 871.0,268.8 871.3,278.5 871.7,289.8 872.0,303.0 872.4,318.9 872.5,326.2 872.7,334.3 872.8,343.2 873.0,353.1 873.1,364.3 873.3,377.2 873.4,392.4 873.5,410.9 873.7,434.5 873.8,467.2 874.0,521.0 874.1,710.1 874.1,827.1 874.3,541.4 874.4,478.7 874.6,443.7 874.7,419.4 874.8,400.8 875.0,385.9 875.1,373.4 875.3,362.8 875.4,353.5 875.6,345.3 875.7,338.0 875.8,331.4 876.0,325.4 876.3,312.7 876.7,302.4 877.1,293.9 877.4,286.9 877.8,281.1 878.1,276.2 878.5,272.3 878.9,269.1 879.2,266.6 879.6,264.7 879.9,263.5 880.3,262.7 880.7,262.6 881.0,262.9 881.4,263.7 881.7,265.1 882.1,266.9 882.5,269.3 882.8,272.2 883.2,275.7 883.5,279.7 883.9,284.4 884.3,289.7 884.6,295.8 885.0,302.8 885.3,310.7 885.7,319.7 886.1,330.2 886.4,342.4 886.8,356.8 886.9,363.4 887.1,370.6 887.2,378.4 887.3,387.1 887.5,396.7 887.6,407.5 887.8,419.9 887.9,434.4 888.1,451.8 888.2,473.6 888.4,503.0 888.5,548.3 888.6,652.2 888.7,897.2 888.8,621.4 888.9,539.4 889.1,499.3 889.2,472.6 889.4,452.7 889.5,436.9 889.6,423.8 889.8,412.7 889.9,403.0 890.1,394.6 890.2,387.0 890.4,380.3 890.7,366.1 891.1,354.7 891.4,345.4 891.8,337.8 892.2,331.4 892.5,326.2 892.9,321.9 893.2,318.4 893.6,315.6 894.0,313.5 894.3,312.0 894.7,311.1 895.0,310.8 895.4,311.0 895.8,311.6 896.1,312.8 896.5,314.5 896.8,316.7 897.2,319.5 897.6,322.7 897.9,326.5 898.3,331.0 898.6,336.0 899.0,341.8 899.4,348.3 899.7,355.8 900.1,364.2 900.4,373.9 900.8,385.0 901.2,398.0 901.5,413.5 901.6,417.0 901.7,424.3 901.9,432.4 902.0,441.3 902.2,451.3 902.3,462.5 902.4,475.4 902.6,490.4 902.7,508.7 902.9,531.8 903.0,563.5 903.2,614.3 903.3,761.4 903.3,1325.8 903.5,650.9 903.6,583.3 903.7,547.0 903.9,522.1 904.0,503.2 904.2,488.1 904.3,475.6 904.5,464.9 904.6,455.7 904.7,447.5 904.9,440.3 905.0,433.8 905.5,417.8 905.8,407.3 906.2,398.9 906.5,391.9 906.9,386.2 907.3,381.6 907.6,377.9 908.0,374.9 908.3,372.7 908.7,371.2 909.1,370.2 909.4,369.9 909.8,370.0 910.1,370.7 910.5,372.0 910.9,373.7 911.2,375.9 911.6,378.7 911.9,382.0 912.3,385.8 912.7,390.2 913.0,395.2 913.4,400.9 913.7,407.3 914.1,414.5 914.5,422.6 914.8,431.7 915.2,442.0 915.5,453.9 915.9,467.6 916.2,483.9 916.4,491.3 916.5,499.3 916.7,508.2 916.8,517.9 917.0,528.8 917.1,541.2 917.3,555.5 917.4,572.5 917.5,593.4 917.7,620.9 917.8,661.1 918.0,739.0 918.1,1325.8 918.1,795.2 918.3,681.7 918.4,636.2 918.5,607.5 918.7,586.7 918.8,570.5 919.0,557.3 919.1,546.2 919.3,536.7 919.4,528.5 919.6,521.2 919.7,514.8 919.8,509.1 920.2,497.1 920.6,487.8 920.9,480.4 921.3,474.7 921.6,470.2 922.0,466.8 922.4,464.3 922.7,462.7 923.1,461.9 923.4,461.8 923.8,462.4 924.2,463.6 924.5,465.4 924.9,467.8 925.2,470.9 925.6,474.5 926.0,478.8 926.3,483.7 926.7,489.2 927.0,495.4 927.4,502.3 927.8,510.0 928.1,518.6 928.5,528.0 928.8,538.5 929.2,550.1 929.5,563.0 929.9,577.5 930.3,593.7 930.6,612.3 931.0,633.7 931.2,648.3 931.3,659.0 931.5,670.5 931.6,683.1 931.8,697.0 931.9,712.4 932.1,729.8 932.2,749.9 932.4,773.9 932.5,803.8 932.6,844.6 932.8,912.6 932.9,1325.8 932.9,1108.4 933.1,910.4 933.2,863.8 933.4,839.5 933.5,825.4 933.6,817.4 933.8,814.2 933.9,815.0 934.1,820.0 934.2,829.9 934.4,846.5 934.5,874.8 934.7,931.7 934.8,1325.8 934.8,1088.5 934.9,899.2 935.1,840.9 935.2,804.0 935.4,776.5 935.5,754.3 935.7,735.6 935.8,719.4 935.9,705.2 936.1,692.4 936.2,680.9 936.4,670.3 936.5,660.6 936.7,647.4 937.1,628.2 937.5,611.9 937.8,597.9 938.2,585.6 938.5,574.9 938.9,565.6 939.3,557.3 939.6,550.2 940.0,544.0 940.3,538.6 940.7,534.1 941.0,530.4 941.4,527.4 941.8,525.2 942.1,523.7 942.5,523.0 942.8,523.0 943.2,523.8 943.6,525.5 943.9,528.1 944.3,531.6 944.6,536.3 945.0,542.3 945.4,549.9 945.7,559.5 946.1,571.6 946.2,574.4 946.3,580.5 946.4,587.3 946.6,595.0 946.7,603.7 946.9,613.7 947.0,625.5 947.2,639.5 947.3,656.9 947.4,679.4 947.6,711.1 947.7,764.2 947.9,960.2 947.9,1325.8 948.0,780.3 948.2,717.1 948.3,681.1 948.5,655.8 948.6,636.2 948.7,620.2 948.9,606.7 949.0,595.0 949.2,584.6 949.3,575.4 949.5,567.0 949.6,559.4 950.0,540.0 950.4,526.7 950.8,515.4 951.1,505.7 951.5,497.2 951.8,489.7 952.2,483.2 952.6,477.4 952.9,472.4 953.3,468.1 953.6,464.4 954.0,461.2 954.3,458.6 954.7,456.5 955.1,454.9 955.4,453.8 955.8,453.2 956.1,453.1 956.5,453.5 956.9,454.4 957.2,455.8 957.6,457.8 957.9,460.4 958.3,463.6 958.7,467.5 959.0,472.1 959.4,477.7 959.7,484.2 960.1,492.0 960.5,501.1 960.8,512.1 961.2,525.5 961.3,528.6 961.4,535.1 961.5,542.3 961.7,550.3 961.8,559.3 962.0,569.4 962.1,581.2 962.3,595.0 962.4,611.7 962.5,632.8 962.7,661.4 962.8,705.6 963.0,806.6 963.0,1325.8 963.1,780.9 963.3,696.7 963.4,655.6 963.6,628.1 963.7,607.5 963.8,591.0 964.0,577.2 964.1,565.5 964.3,555.2 964.4,546.1 964.6,537.9 964.7,530.5 965.1,511.9 965.5,499.3 965.9,488.8 966.2,479.8 966.6,472.0 966.9,465.4 967.3,459.6 967.6,454.6 968.0,450.3 968.4,446.6 968.7,443.5 969.1,441.0 969.4,439.0 969.8,437.5 970.2,436.5 970.5,435.9 970.9,435.8 971.2,436.2 971.6,437.1 972.0,438.4 972.3,440.2 972.7,442.5 973.0,445.4 973.4,448.9 973.8,453.0 974.1,457.8 974.5,463.4 974.8,469.9 975.2,477.4 975.6,486.2 975.9,496.5 976.3,508.9 976.6,523.8 976.8,530.8 976.9,538.5 977.1,547.1 977.2,556.7 977.4,567.6 977.5,580.2 977.6,595.2 977.8,613.5 977.9,637.2 978.1,670.3 978.2,726.2 978.4,982.2 978.4,1325.8 978.5,734.4 978.6,674.5 978.8,640.1 978.9,615.9 979.1,597.2 979.2,582.0 979.4,569.2 979.5,558.3 979.7,548.6 979.8,540.1 979.9,532.4 980.1,525.4 980.2,519.0 980.6,505.3 980.9,493.9 981.3,484.4 981.7,476.2 982.0,469.3 982.4,463.3 982.7,458.2 983.1,453.8 983.5,450.0 983.8,446.9 984.2,444.4 984.5,442.3 984.9,440.8 985.3,439.8 985.6,439.2 986.0,439.0 986.3,439.4 986.7,440.1 987.1,441.3 987.4,443.0 987.8,445.2 988.1,447.8 988.5,451.0 988.9,454.8 989.2,459.2 989.6,464.2 989.9,470.0 990.3,476.7 990.7,484.3 991.0,493.1 991.4,503.4 991.7,515.6 992.1,530.2 992.2,533.5 992.3,540.5 992.5,548.2 992.6,556.8 992.7,566.4 992.9,577.3 993.0,589.8 993.2,604.5 993.3,622.5 993.5,645.4 993.6,677.0 993.7,728.3 993.9,884.3 993.9,1325.8 994.0,759.5 994.2,693.0 994.3,656.6 994.5,631.5 994.6,612.4 994.8,596.9 994.9,584.0 995.0,572.9 995.2,563.3 995.3,554.7 995.5,547.0 995.6,540.1 996.0,522.7 996.4,511.1 996.8,501.5 997.1,493.3 997.5,486.3 997.8,480.4 998.2,475.3 998.6,471.0 998.9,467.4 999.3,464.4 999.6,462.0 1000.0,460.1 1000.4,458.7 1000.7,457.7 1001.1,457.2 1001.4,457.2 1001.8,457.6 1002.2,458.4 1002.5,459.7 1002.9,461.4 1003.2,463.6 1003.6,466.2 1004.0,469.4 1004.3,473.0 1004.7,477.3 1005.0,482.1 1005.4,487.6 1005.7,493.9 1006.1,501.0 1006.5,509.1 1006.8,518.4 1007.2,529.2 1007.5,541.9 1007.9,557.0 1008.0,560.4 1008.1,567.7 1008.3,575.7 1008.4,584.5 1008.6,594.4 1008.7,605.7 1008.8,618.6 1009.0,633.9 1009.1,652.5 1009.3,676.4 1009.4,709.8 1009.6,765.8 1009.7,1015.4 1009.7,1325.8 1009.8,775.3 1010.0,715.5 1010.1,681.3 1010.3,657.3 1010.4,638.9 1010.6,624.0 1010.7,611.5 1010.9,600.8 1011.0,591.5 1011.1,583.2 1011.3,575.8 1011.4,569.1 1011.9,552.3 1012.2,541.2 1012.6,532.0 1012.9,524.3 1013.3,517.8 1013.7,512.3 1014.0,507.6 1014.4,503.7 1014.7,500.5 1015.1,497.9 1015.5,495.9 1015.8,494.3 1016.2,493.3 1016.5,492.8 1016.9,492.6 1017.3,493.0 1017.6,493.7 1018.0,494.9 1018.3,496.5 1018.7,498.6 1019.0,501.1 1019.4,504.0 1019.8,507.4 1020.1,511.4 1020.5,515.8 1020.8,520.8 1021.2,526.5 1021.6,532.8 1021.9,540.0 1022.3,548.0 1022.6,557.1 1023.0,567.4 1023.4,579.3 1023.7,593.2 1024.1,609.9 1024.2,617.5 1024.4,625.9 1024.5,635.1 1024.7,645.5 1024.8,657.2 1024.9,670.7 1025.1,686.6 1025.2,706.1 1025.4,731.3 1025.5,766.9 1025.7,829.1 1025.8,1325.8 1025.8,1029.7 1026.0,816.4 1026.1,762.5 1026.2,730.5 1026.4,707.7 1026.5,690.2 1026.7,676.0 1026.8,664.1 1027.0,653.9 1027.1,645.0 1027.2,637.2 1027.4,630.2 1027.5,623.9 1027.7,618.2 1028.0,606.2 1028.4,596.5 1028.8,588.5 1029.1,582.0 1029.5,576.7 1029.8,572.3 1030.2,568.8 1030.6,566.1 1030.9,564.0 1031.3,562.6 1031.6,561.7 1032.0,561.4 1032.3,561.6 1032.7,562.3 1033.1,563.5 1033.4,565.1 1033.8,567.2 1034.1,569.8 1034.5,572.9 1034.9,576.4 1035.2,580.4 1035.6,584.9 1035.9,590.0 1036.3,595.6 1036.7,601.8 1037.0,608.6 1037.4,616.2 1037.7,624.4 1038.1,633.6 1038.5,643.6 1038.8,654.8 1039.2,667.2 1039.5,681.2 1039.9,697.1 1040.3,715.4 1040.5,727.9 1040.6,737.0 1040.8,746.9 1040.9,757.7 1041.0,769.6 1041.2,782.9 1041.3,797.9 1041.5,815.3 1041.6,836.2 1041.8,862.3 1041.9,897.9 1042.1,955.9 1042.2,1190.4 1042.2,1325.8 1042.3,973.0 1042.5,915.4 1042.6,883.8 1042.8,862.8 1042.9,847.5 1043.1,835.8 1043.2,826.7 1043.3,819.6 1043.5,814.1 1043.6,809.8 1043.8,806.6 1043.9,804.4 1044.2,802.6 1044.6,805.1 1044.6,806.2 1044.8,809.1 1044.9,813.0 1045.1,818.0 1045.2,824.3 1045.4,832.1 1045.5,841.8 1045.6,854.0 1045.8,869.9 1045.9,891.2 1046.1,922.6 1046.2,978.1 1046.4,1325.8 1046.5,973.7 1046.7,913.9 1046.8,878.1 1046.9,852.3 1047.1,832.0 1047.2,815.2 1047.4,800.9 1047.5,788.3 1047.7,777.2 1047.8,767.2 1047.9,758.1 1048.1,749.7 1048.5,728.4 1048.9,713.7 1049.2,701.2 1049.6,690.4 1050.0,681.0 1050.3,672.9 1050.7,665.8 1051.0,659.7 1051.4,654.4 1051.8,650.0 1052.1,646.4 1052.5,643.4 1052.8,641.3 1053.2,639.8 1053.6,639.0 1053.9,639.0 1054.3,639.7 1054.6,641.2 1055.0,643.7 1055.4,647.0 1055.7,651.5 1056.1,657.2 1056.4,664.4 1056.8,673.6 1057.1,685.2 1057.3,690.7 1057.4,696.9 1057.6,703.8 1057.7,711.6 1057.9,720.6 1058.0,730.9 1058.2,743.0 1058.3,757.7 1058.4,776.1 1058.6,800.3 1058.7,835.6 1058.9,900.0 1059.0,1325.8 1059.0,1039.6 1059.2,871.9 1059.3,819.2 1059.5,786.6 1059.6,762.9 1059.7,744.3 1059.9,728.8 1060.0,715.6 1060.2,704.1 1060.3,693.9 1060.5,684.7 1060.6,676.3 1060.7,668.7 1061.1,652.0 1061.5,638.0 1061.8,625.9 1062.2,615.3 1062.5,606.0 1062.9,597.8 1063.3,590.4 1063.6,583.8 1064.0,577.9 1064.3,572.6 1064.7,567.8 1065.1,563.6 1065.4,559.9 1065.8,556.6 1066.1,553.7 1066.5,551.3 1066.9,549.3 1067.2,547.6 1067.6,546.4 1067.9,545.5 1068.3,545.0 1068.7,544.9 1069.0,545.2 1069.4,545.9 1069.7,547.1 1070.1,548.6 1070.4,550.7 1070.8,553.2 1071.2,556.3 1071.5,559.9 1071.9,564.2 1072.2,569.3 1072.6,575.1 1073.0,582.0 1073.3,590.0 1073.7,599.4 1074.0,610.7 1074.4,624.4 1074.5,630.8 1074.7,637.8 1074.8,645.6 1075.0,654.3 1075.1,664.2 1075.3,675.5 1075.4,688.7 1075.6,704.6 1075.7,724.5 1075.8,751.0 1076.0,790.3 1076.1,868.2 1076.2,1325.8 1076.3,918.1 1076.4,805.9 1076.6,759.5 1076.7,729.8 1076.8,707.9 1077.0,690.5 1077.1,676.1 1077.3,663.8 1077.4,653.0 1077.6,643.6 1077.7,635.0 1077.9,627.3 1078.0,620.3 1078.4,605.0 1078.7,592.3 1079.1,581.4 1079.4,572.0 1079.8,563.8 1080.2,556.6 1080.5,550.2 1080.9,544.6 1081.2,539.5 1081.6,535.1 1082.0,531.2 1082.3,527.8 1082.7,524.8 1083.0,522.2 1083.4,520.0 1083.7,518.3 1084.1,516.8 1084.5,515.8 1084.8,515.1 1085.2,514.7 1085.5,514.7 1085.9,515.1 1086.3,515.8 1086.6,516.8 1087.0,518.3 1087.3,520.1 1087.7,522.3 1088.1,525.0 1088.4,528.1 1088.8,531.8 1089.1,535.9 1089.5,540.7 1089.9,546.2 1090.2,552.4 1090.6,559.6 1090.9,567.8 1091.3,577.3 1091.7,588.6 1092.0,602.0 1092.2,611.4 1092.4,618.4 1092.5,626.2 1092.7,634.8 1092.8,644.5 1093.0,655.5 1093.1,668.3 1093.2,683.5 1093.4,702.3 1093.5,726.5 1093.7,761.0 1093.8,820.9 1094.0,1325.8 1094.0,1067.6 1094.1,812.5 1094.2,756.7 1094.4,723.5 1094.5,699.8 1094.7,681.5 1094.8,666.4 1095.0,653.7 1095.1,642.8 1095.3,633.1 1095.4,624.5 1095.5,616.7 1095.7,609.7 1096.0,597.2 1096.3,584.2 1096.7,573.1 1097.0,563.7 1097.4,555.5 1097.8,548.3 1098.1,542.0 1098.5,536.5 1098.8,531.6 1099.2,527.2 1099.6,523.4 1099.9,520.1 1100.3,517.2 1100.6,514.8 1101.0,512.7 1101.4,511.0 1101.7,509.7 1102.1,508.6 1102.4,508.0 1102.8,507.6 1103.2,507.6 1103.5,507.9 1103.9,508.5 1104.2,509.5 1104.6,510.8 1105.0,512.4 1105.3,514.4 1105.7,516.8 1106.0,519.6 1106.4,522.7 1106.8,526.4 1107.1,530.5 1107.5,535.1 1107.8,540.4 1108.2,546.3 1108.6,553.0 1108.9,560.6 1109.3,569.3 1109.6,579.3 1110.0,591.0 1110.3,604.9 1110.5,611.3 1110.6,618.2 1110.8,625.8 1110.9,634.2 1111.1,643.6 1111.2,654.2 1111.4,666.4 1111.5,680.7 1111.6,698.1 1111.8,720.0 1111.9,749.7 1112.1,796.4 1112.2,911.8 1112.3,1325.8 1112.4,854.9 1112.5,778.3 1112.6,739.2 1112.8,712.7 1112.9,692.7 1113.1,676.7 1113.2,663.3 1113.4,651.8 1113.5,641.8 1113.7,632.9 1113.8,625.0 1113.9,617.8 1114.3,602.3 1114.7,589.6 1115.0,578.9 1115.4,569.8 1115.7,561.9 1116.1,555.0 1116.5,548.9 1116.8,543.6 1117.2,538.9 1117.5,534.8 1117.9,531.2 1118.3,528.1 1118.6,525.4 1119.0,523.1 1119.3,521.1 1119.7,519.6 1120.1,518.3 1120.4,517.4 1120.8,516.8 1121.1,516.5 1121.5,516.6 1121.8,516.9 1122.2,517.5 1122.6,518.4 1122.9,519.7 1123.3,521.2 1123.6,523.1 1124.0,525.3 1124.4,527.8 1124.7,530.7 1125.1,534.0 1125.4,537.7 1125.8,541.8 1126.2,546.4 1126.5,551.6 1126.9,557.3 1127.2,563.8 1127.6,571.0 1128.0,579.1 1128.3,588.3 1128.7,598.9 1129.0,611.2 1129.4,625.8 1129.6,636.0 1129.8,643.7 1129.9,652.0 1130.0,661.4 1130.2,671.9 1130.3,683.9 1130.5,697.9 1130.6,714.7 1130.8,735.8 1130.9,763.9 1131.1,806.3 1131.2,896.5 1131.3,1325.8 1131.3,902.0 1131.5,808.7 1131.6,766.0 1131.8,738.0 1131.9,717.2 1132.1,700.7 1132.2,687.0 1132.3,675.4 1132.5,665.2 1132.6,656.3 1132.8,648.3 1132.9,641.1 1133.1,634.5 1133.4,623.0 1133.7,610.8 1134.1,600.7 1134.4,591.9 1134.8,584.4 1135.1,577.9 1135.5,572.2 1135.9,567.2 1136.2,562.8 1136.6,559.0 1136.9,555.7 1137.3,552.8 1137.7,550.3 1138.0,548.3 1138.4,546.6 1138.7,545.2 1139.1,544.1 1139.5,543.4 1139.8,543.0 1140.2,542.8 1140.5,543.0 1140.9,543.4 1141.3,544.1 1141.6,545.1 1142.0,546.4 1142.3,548.0 1142.7,549.8 1143.1,552.0 1143.4,554.4 1143.8,557.2 1144.1,560.3 1144.5,563.7 1144.9,567.6 1145.2,571.8 1145.6,576.4 1145.9,581.5 1146.3,587.2 1146.7,593.4 1147.0,600.3 1147.4,607.9 1147.7,616.4 1148.1,626.0 1148.4,636.9 1148.8,649.5 1149.2,664.2 1149.3,670.9 1149.5,678.2 1149.6,686.1 1149.7,694.8 1149.9,704.5 1150.0,715.3 1150.2,727.8 1150.3,742.3 1150.5,759.7 1150.6,781.6 1150.7,811.1 1150.9,856.6 1151.0,962.1 1151.1,1325.8 1151.2,927.5 1151.3,846.3 1151.5,806.3 1151.6,779.7 1151.8,759.7 1151.9,743.8 1152.0,730.6 1152.2,719.4 1152.3,709.7 1152.5,701.0 1152.6,693.4 1152.8,686.4 1153.1,671.7 1153.5,659.8 1153.8,649.9 1154.2,641.5 1154.6,634.4 1154.9,628.2 1155.3,623.0 1155.6,618.4 1156.0,614.5 1156.4,611.1 1156.7,608.3 1157.1,605.9 1157.4,603.9 1157.8,602.4 1158.2,601.2 1158.5,600.3 1158.9,599.8 1159.2,599.6 1159.6,599.7 1160.0,600.1 1160.3,600.7 1160.7,601.7 1161.0,602.9 1161.4,604.5 1161.7,606.3 1162.1,608.3 1162.5,610.7 1162.8,613.4 1163.2,616.3 1163.5,619.5 1163.9,623.1 1164.3,627.0 1164.6,631.2 1165.0,635.8 1165.3,640.7 1165.7,646.1 1166.1,651.9 1166.4,658.1 1166.8,664.9 1167.1,672.2 1167.5,680.2 1167.9,688.8 1168.2,698.3 1168.6,708.8 1168.9,720.4 1169.3,733.4 1169.7,748.2 1170.0,765.3 1170.2,773.0 1170.3,781.3 1170.4,790.3 1170.6,800.1 1170.7,811.0 1170.9,823.2 1171.0,837.0 1171.2,853.2 1171.3,872.5 1171.5,896.9 1171.6,930.1 1171.7,983.7 1171.9,1152.8 1171.9,1325.8 1172.0,1012.8 1172.2,949.2 1172.3,914.7 1172.5,891.2 1172.6,873.6 1172.7,859.7 1172.9,848.3 1173.0,838.7 1173.2,830.6 1173.3,823.6 1173.5,817.5 1173.6,812.2 1174.0,801.6 1174.3,793.9 1174.7,788.5 1175.0,784.9 1175.4,783.0 1175.8,782.6 1176.1,783.5 1176.5,785.9 1176.8,789.7 1177.2,795.2 1177.6,802.5 1177.9,812.1 1178.4,827.4 1178.5,833.8 1178.6,841.0 1178.8,849.2 1178.9,858.6 1179.1,869.5 1179.2,882.4 1179.4,898.2 1179.5,918.2 1179.6,945.4 1179.8,986.8 1179.9,1075.7 1180.0,1325.8 1180.1,1081.4 1180.2,986.9 1180.4,943.2 1180.5,914.4 1180.7,892.8 1180.8,875.5 1180.9,861.1 1181.1,848.8 1181.2,837.9 1181.4,828.3 1181.5,819.7 1181.7,811.8 1181.8,804.6 1181.9,801.3 1182.2,786.2 1182.6,773.6 1183.0,762.9 1183.3,753.6 1183.7,745.6 1184.0,738.6 1184.4,732.5 1184.8,727.1 1185.1,722.5 1185.5,718.6 1185.8,715.2 1186.2,712.5 1186.5,710.3 1186.9,708.6 1187.3,707.5 1187.6,706.9 1188.0,706.8 1188.3,707.4 1188.7,708.5 1189.1,710.2 1189.4,712.6 1189.8,715.7 1190.1,719.6 1190.5,724.5 1190.9,730.5 1191.2,737.7 1191.6,746.7 1191.9,757.7 1192.2,765.7 1192.3,771.7 1192.4,778.3 1192.6,785.8 1192.7,794.2 1192.9,803.9 1193.0,815.1 1193.2,828.5 1193.3,844.8 1193.5,865.6 1193.6,894.1 1193.7,938.8 1193.9,1046.5 1193.9,1325.8 1194.0,1003.1 1194.2,922.6 1194.3,881.8 1194.5,854.1 1194.6,833.1 1194.7,816.1 1194.9,801.8 1195.0,789.4 1195.2,778.5 1195.3,768.7 1195.5,759.9 1195.6,751.8 1195.9,737.4 1196.3,722.1 1196.6,708.9 1197.0,697.4 1197.3,687.1 1197.7,677.9 1198.1,669.5 1198.4,661.9 1198.8,655.0 1199.1,648.6 1199.5,642.7 1199.8,637.3 1200.2,632.3 1200.6,627.6 1200.9,623.3 1201.3,619.4 1201.6,615.7 1202.0,612.3 1202.4,609.2 1202.7,606.4 1203.1,603.8 1203.4,601.4 1203.8,599.3 1204.2,597.4 1204.5,595.7 1204.9,594.3 1205.2,593.0 1205.6,592.0 1206.0,591.1 1206.3,590.5 1206.7,590.1 1207.0,589.9 1207.4,589.9 1207.8,590.2 1208.1,590.6 1208.5,591.3 1208.8,592.2 1209.2,593.4 1209.6,594.8 1209.9,596.4 1210.3,598.4 1210.6,600.6 1211.0,603.2 1211.4,606.1 1211.7,609.4 1212.1,613.0 1212.4,617.2 1212.8,621.8 1213.1,627.0 1213.5,632.8 1213.9,639.4 1214.2,646.9 1214.6,655.5 1214.9,665.4 1215.3,677.0 1215.7,691.0 1215.7,694.2 1215.9,701.0 1216.0,708.4 1216.2,716.6 1216.3,725.8 1216.5,736.3 1216.6,748.3 1216.7,762.5 1216.9,779.8 1217.0,801.8 1217.2,831.9 1217.3,879.9 1217.5,1007.1 1217.5,1325.8 1217.6,927.1 1217.7,854.4 1217.9,816.0 1218.0,789.7 1218.2,769.7 1218.3,753.5 1218.5,739.9 1218.6,728.2 1218.8,717.9 1218.9,708.7 1219.0,700.4 1219.2,692.9 1219.6,673.7 1220.0,660.5 1220.3,649.1 1220.7,639.2 1221.1,630.4 1221.4,622.5 1221.8,615.4 1222.1,609.0 1222.5,603.1 1222.9,597.8 1223.2,592.9 1223.6,588.3 1223.9,584.2 1224.3,580.4 1224.7,576.8 1225.0,573.6 1225.4,570.6 1225.7,567.9 1226.1,565.4 1226.4,563.2 1226.8,561.1 1227.2,559.3 1227.5,557.6 1227.9,556.2 1228.2,554.9 1228.6,553.8 1229.0,552.9 1229.3,552.1 1229.7,551.5 1230.0,551.1 1230.4,550.9 1230.8,550.8 1231.1,550.9 1231.5,551.2 1231.8,551.6 1232.2,552.2 1232.6,553.0 1232.9,554.0 1233.3,555.1 1233.6,556.5 1234.0,558.0 1234.4,559.8 1234.7,561.7 1235.1,563.9 1235.4,566.3 1235.8,569.0 1236.2,572.0 1236.5,575.2 1236.9,578.7 1237.2,582.6 1237.6,586.9 1238.0,591.6 1238.3,596.8 1238.7,602.5 1239.0,608.8 1239.4,615.9 1239.7,623.8 1240.1,632.7 1240.5,642.9 1240.8,654.8 1241.2,668.9 1241.3,675.3 1241.5,682.3 1241.6,690.0 1241.8,698.5 1241.9,708.1 1242.0,718.9 1242.2,731.3 1242.3,746.0 1242.5,763.9 1242.6,786.8 1242.8,818.6 1242.9,870.6 1243.1,1038.1 1243.1,1325.8 1243.2,896.6 1243.3,831.3 1243.5,795.1 1243.6,770.0 1243.8,750.7 1243.9,735.0 1244.1,721.8 1244.2,710.4 1244.3,700.5 1244.5,691.5 1244.6,683.5 1244.8,676.2 1245.1,660.3 1245.5,647.1 1245.9,635.8 1246.2,626.0 1246.6,617.3 1246.9,609.6 1247.3,602.6 1247.7,596.3 1248.0,590.5 1248.4,585.3 1248.7,580.5 1249.1,576.1 1249.5,572.0 1249.8,568.3 1250.2,564.8 1250.5,561.6 1250.9,558.7 1251.2,556.0 1251.6,553.5 1252.0,551.3 1252.3,549.2 1252.7,547.3 1253.0,545.6 1253.4,544.1 1253.8,542.7 1254.1,541.5 1254.5,540.4 1254.8,539.5 1255.2,538.7 1255.6,538.1 1255.9,537.6 1256.3,537.3 1256.6,537.1 1257.0,537.0 1257.4,537.1 1257.7,537.3 1258.1,537.6 1258.4,538.1 1258.8,538.7 1259.2,539.4 1259.5,540.3 1259.9,541.4 1260.2,542.5 1260.6,543.9 1261.0,545.3 1261.3,547.0 1261.7,548.8 1262.0,550.8 1262.4,552.9 1262.8,555.3 1263.1,557.8 1263.5,560.6 1263.8,563.6 1264.2,566.8 1264.5,570.2 1264.9,574.0 1265.3,578.1 1265.6,582.5 1266.0,587.2 1266.3,592.4 1266.7,598.0 1267.1,604.2 1267.4,611.0 1267.8,618.5 1268.1,626.9 1268.5,636.3 1268.9,647.1 1269.2,659.6 1269.6,674.3 1269.7,677.7 1269.8,684.7 1269.9,692.4 1270.1,700.9 1270.2,710.4 1270.4,721.2 1270.5,733.5 1270.7,748.0 1270.8,765.5 1270.9,787.8 1271.1,818.1 1271.2,866.4 1271.4,993.4 1271.4,1325.8 1271.5,914.4 1271.7,841.8 1271.8,803.6 1272.0,777.5 1272.1,757.7 1272.2,741.7 1272.4,728.4 1272.5,716.9 1272.7,706.8 1272.8,697.8 1273.0,689.8 1273.1,682.4 1273.5,663.8 1273.9,651.1 1274.3,640.2 1274.6,630.6 1275.0,622.2 1275.3,614.7 1275.7,607.9 1276.1,601.8 1276.4,596.2 1276.8,591.1 1277.1,586.4 1277.5,582.1 1277.8,578.1 1278.2,574.4 1278.6,571.0 1278.9,567.8 1279.3,564.9 1279.6,562.2 1280.0,559.7 1280.4,557.3 1280.7,555.2 1281.1,553.2 1281.4,551.4 1281.8,549.8 1282.2,548.3 1282.5,546.9 1282.9,545.6 1283.2,544.5 1283.6,543.5 1284.0,542.7 1284.3,541.9 1284.7,541.3 1285.0,540.8 1285.4,540.4 1285.8,540.1 1286.1,539.9 1286.5,539.8 1286.8,539.8 1287.2,539.9 1287.6,540.2 1287.9,540.5 1288.3,540.9 1288.6,541.4 1289.0,542.1 1289.4,542.8 1289.7,543.7 1290.1,544.6 1290.4,545.7 1290.8,546.9 1291.1,548.1 1291.5,549.5 1291.9,551.1 1292.2,552.7 1292.6,554.4 1292.9,556.3 1293.3,558.4 1293.7,560.5 1294.0,562.8 1294.4,565.3 1294.7,567.9 1295.1,570.7 1295.5,573.6 1295.8,576.8 1296.2,580.2 1296.5,583.7 1296.9,587.5 1297.3,591.6 1297.6,596.0 1298.0,600.6 1298.3,605.6 1298.7,611.0 1299.1,616.9 1299.4,623.2 1299.8,630.1 1300.1,637.6 1300.5,646.0 1300.9,655.4 1301.2,665.9 1301.6,678.0 1301.9,692.2 1302.1,702.0 1302.3,709.2 1302.4,717.2 1302.6,725.9 1302.7,735.7 1302.9,746.7 1303.0,759.4 1303.2,774.4 1303.3,792.6 1303.4,815.9 1303.6,848.2 1303.7,901.5 1303.9,1086.3 1303.9,1325.8 1304.0,922.3 1304.2,858.9 1304.3,823.4 1304.4,798.6 1304.6,779.6 1304.7,764.2 1304.9,751.2 1305.0,740.0 1305.2,730.2 1305.3,721.5 1305.5,713.6 1305.6,706.4 1305.9,693.8 1306.2,680.4 1306.6,669.0 1307.0,659.2 1307.3,650.5 1307.7,642.8 1308.0,635.8 1308.4,629.5 1308.8,623.8 1309.1,618.5 1309.5,613.7 1309.8,609.3 1310.2,605.2 1310.6,601.4 1310.9,597.8 1311.3,594.5 1311.6,591.5 1312.0,588.6 1312.4,585.9 1312.7,583.5 1313.1,581.1 1313.4,579.0 1313.8,577.0 1314.2,575.1 1314.5,573.4 1314.9,571.8 1315.2,570.3 1315.6,568.9 1315.9,567.6 1316.3,566.5 1316.7,565.4 1317.0,564.5 1317.4,563.6 1317.7,562.8 1318.1,562.1 1318.5,561.5 1318.8,561.0 1319.2,560.6 1319.5,560.2 1319.9,559.9 1320.3,559.7 1320.6,559.6 1321.0,559.6 1321.3,559.6 1321.7,559.7 1322.1,559.9 1322.4,560.1 1322.8,560.4 1323.1,560.8 1323.5,561.2 1323.9,561.8 1324.2,562.4 1324.6,563.0 1324.9,563.8 1325.3,564.6 1325.7,565.4 1326.0,566.4 1326.4,567.4 1326.7,568.5 1327.1,569.6 1327.5,570.9 1327.8,572.2 1328.2,573.6 1328.5,575.0 1328.9,576.6 1329.2,578.2 1329.6,579.9 1330.0,581.7 1330.3,583.6 1330.7,585.6 1331.0,587.6 1331.4,589.8 1331.8,592.1 1332.1,594.4 1332.5,596.9 1332.8,599.5 1333.2,602.2 1333.6,605.1 1333.9,608.1 1334.3,611.2 1334.6,614.5 1335.0,617.9 1335.4,621.6 1335.7,625.4 1336.1,629.4 1336.4,633.6 1336.8,638.1 1337.2,642.8 1337.5,647.8 1337.9,653.2 1338.2,658.9 1338.6,665.1 1339.0,671.7 1339.3,678.8 1339.7,686.7 1340.0,695.3 1340.4,704.8 1340.8,715.5 1341.1,727.7 1341.5,741.8 1341.7,751.6 1341.8,758.7 1342.0,766.6 1342.1,775.2 1342.3,784.7 1342.4,795.4 1342.5,807.7 1342.7,822.0 1342.8,839.2 1343.0,860.9 1343.1,890.0 1343.3,934.8 1343.4,1037.5 1343.5,1325.8 1343.6,1008.8 1343.7,925.8 1343.8,885.2 1344.0,858.1 1344.1,837.8 1344.3,821.6 1344.4,808.0 1344.6,796.5 1344.7,786.3 1344.8,777.4 1345.0,769.3 1345.1,762.0 1345.4,749.2 1345.8,735.7 1346.1,724.3 1346.5,714.4 1346.9,705.7 1347.2,697.9 1347.6,691.0 1347.9,684.7 1348.3,679.0 1348.7,673.7 1349.0,668.9 1349.4,664.4 1349.7,660.3 1350.1,656.5 1350.5,652.9 1350.8,649.6 1351.2,646.5 1351.5,643.5 1351.9,640.8 1352.3,638.2 1352.6,635.8 1353.0,633.6 1353.3,631.5 1353.7,629.5 1354.1,627.6 1354.4,625.8 1354.8,624.2 1355.1,622.6 1355.5,621.2 1355.8,619.8 1356.2,618.5 1356.6,617.3 1356.9,616.2 1357.3,615.2 1357.6,614.2 1358.0,613.3 1358.4,612.5 1358.7,611.7 1359.1,611.0 1359.4,610.4 1359.8,609.8 1360.2,609.3 1360.5,608.9 1360.9,608.5 1361.2,608.1 1361.6,607.8 1362.0,607.6 1362.3,607.4 1362.7,607.2 1363.0,607.1 1363.4,607.0 1363.8,607.0 1364.1,607.0 1364.5,607.1 1364.8,607.2 1365.2,607.4 1365.6,607.6 1365.9,607.8 1366.3,608.1 1366.6,608.4 1367.0,608.8 1367.4,609.2 1367.7,609.6 1368.1,610.1 1368.4,610.6 1368.8,611.2 1369.1,611.7 1369.5,612.4 1369.9,613.0 1370.2,613.7 1370.6,614.4 1370.9,615.2 1371.3,616.0 1371.7,616.9 1372.0,617.7 1372.4,618.6 1372.7,619.6 1373.1,620.6 1373.5,621.6 1373.8,622.6 1374.2,623.7 1374.5,624.8 1374.9,626.0 1375.3,627.2 1375.6,628.4 1376.0,629.7 1376.3,631.0 1376.7,632.3 1377.1,633.7 1377.4,635.1 1377.8,636.5 1378.1,638.0 1378.5,639.6 1378.9,641.1 1379.2,642.7 1379.6,644.4 1379.9,646.1 1380.3,647.8 1380.6,649.6 1381.0,651.4 1381.4,653.2 1381.7,655.1 1382.1,657.1 1382.4,659.1 1382.8,661.1 1383.2,663.2 1383.5,665.4 1383.9,667.6 1384.2,669.8 1384.6,672.1 1385.0,674.5 1385.3,676.9 1385.7,679.4 1386.0,681.9 1386.4,684.6 1386.8,687.2 1387.1,690.0 1387.5,692.8 1387.8,695.7 1388.2,698.7 1388.6,701.8 1388.9,704.9 1389.3,708.2 1389.6,711.5 1390.0,715.0 1390.4,718.5 1390.7,722.2 1391.1,726.0 1391.4,730.0 1391.8,734.1 1392.2,738.3 1392.5,742.7 1392.9,747.3 1393.2,752.1 1393.6,757.1 1393.9,762.4 1394.3,767.9 1394.7,773.8 1395.0,779.9 1395.4,786.5 1395.7,793.5 1396.1,800.9 1396.5,809.0 1396.8,817.8 1397.2,827.4 1397.5,838.1 1397.9,850.0 1398.3,863.7 1398.6,879.7 1398.8,887.0 1398.9,894.9 1399.1,903.6 1399.2,913.1 1399.3,923.8 1399.5,936.0 1399.6,950.1 1399.8,966.9 1399.9,987.8 1400.1,1015.5 1400.2,1056.6 1400.3,1139.9 1400.4,1325.8 1400.5,1170.1 1400.6,1067.6 1400.8,1023.3 1400.9,994.7 1401.1,973.6 1401.2,957.0 1401.4,943.2 1401.5,931.5 1401.6,921.3 1401.8,912.4 1401.9,904.3 1402.1,897.1 1402.2,890.5 1402.6,876.2 1402.9,864.2 1403.3,854.1 1403.7,845.2 1404.0,837.5 1404.4,830.5 1404.7,824.3 1405.1,818.7 1405.5,813.6 1405.8,808.9 1406.2,804.6 1406.5,800.7 1406.9,797.0 1407.2,793.6 1407.6,790.5 1408.0,787.5 1408.3,784.8 1408.7,782.3 1409.0,779.9 1409.4,777.7 1409.8,775.6 1410.1,773.7 1410.5,771.8 1410.8,770.1 1411.2,768.5 1411.6,767.1 1411.9,765.7 1412.3,764.4 1412.6,763.1 1413.0,762.0 1413.4,760.9 1413.7,760.0 1414.1,759.0 1414.4,758.2 1414.8,757.4 1415.2,756.7 1415.5,756.0 1415.9,755.4 1416.2,754.9 1416.6,754.4 1417.0,753.9 1417.3,753.5 1417.7,753.2 1418.0,752.9 1418.4,752.6 1418.8,752.4 1419.1,752.2 1419.5,752.1 1419.8,752.0 1420.2,751.9 1420.5,751.9 1420.9,751.9 1421.3,751.9 1421.6,752.0 1422.0,752.1 1422.3,752.3 1422.7,752.5 1423.1,752.7 1423.4,752.9 1423.8,753.2 1424.1,753.5 1424.5,753.8 1424.9,754.2 1425.2,754.6 1425.6,755.0 1425.9,755.4 1426.3,755.9 1426.7,756.4 1427.0,756.9 1427.4,757.5 1427.7,758.1 1428.1,758.7 1428.5,759.3 1428.8,759.9 1429.2,760.6 1429.5,761.3 1429.9,762.0 1430.3,762.8 1430.6,763.5 1431.0,764.3 1431.3,765.1 1431.7,766.0 1432.1,766.8 1432.4,767.7 1432.8,768.6 1433.1,769.5 1433.5,770.5 1433.8,771.4 1434.2,772.4 1434.6,773.5 1434.9,774.5 1435.3,775.5 1435.6,776.6 1436.0,777.7 1436.4,778.8 1436.7,780.0 1437.1,781.2 1437.4,782.3 1437.8,783.5 1438.2,784.8 1438.5,786.0 1438.9,787.3 1439.2,788.6 1439.6,789.9 1440.0,791.3 1440.3,792.6 1440.7,794.0 1441.0,795.4 1441.4,796.9 1441.8,798.3 1442.1,799.8 1442.5,801.3 1442.8,802.8 1443.2,804.4 1443.6,805.9 1443.9,807.5 1444.3,809.1 1444.6,810.8 1445.0,812.5 1445.3,814.2 1445.7,815.9 1446.1,817.6 1446.4,819.4 1446.8,821.2 1447.1,823.0 1447.5,824.9 1447.9,826.8 1448.2,828.7 1448.6,830.6 1448.9,832.6 1449.3,834.6 1449.7,836.6 1450.0,838.7 1450.4,840.8 1450.7,842.9 1451.1,845.0 1451.5,847.2 1451.8,849.5 1452.2,851.7 1452.5,854.0 1452.9,856.4 1453.3,858.7 1453.6,861.1 1454.0,863.6 1454.3,866.1 1454.7,868.6 1455.1,871.2 1455.4,873.8 1455.8,876.5 1456.1,879.2 1456.5,882.0 1456.9,884.8 1457.2,887.7 1457.6,890.6 1457.9,893.5 1458.3,896.6 1458.6,899.7 1459.0,902.8 1459.4,906.0 1459.7,909.3 1460.1,912.7 1460.4,916.1 1460.8,919.6 1461.2,923.1 1461.5,926.8 1461.9,930.5 1462.2,934.4 1462.6,938.3 1463.0,942.3 1463.3,946.4 1463.7,950.6 1464.0,954.9 1464.4,959.4 1464.8,963.9 1465.1,968.6 1465.5,973.5 1465.8,978.4 1466.2,983.6 1466.6,988.9 1466.9,994.3 1467.3,1000.0 1467.6,1005.8 1468.0,1011.9 1468.4,1018.2 1468.7,1024.7 1469.1,1031.5 1469.4,1038.6 1469.8,1046.1 1470.2,1053.8 1470.5,1062.0 1470.9,1070.5 1471.2,1079.6 1471.6,1089.1 1471.9,1099.2 1472.3,1110.0 1472.7,1121.5 1473.0,1133.9 1473.4,1147.2 1473.7,1161.8 1474.1,1177.7 1474.5,1195.3 1474.8,1214.9 1475.2,1237.2 1475.5,1263.0 1475.9,1293.4 1476.3,1325.8 1476.6,1325.8 1477.0,1325.8 1477.3,1325.8 1477.7,1325.8" stroke="#0000ff" stroke-width="7"/>
<polyline points="189.9,1100.0 190.0,1030.0 190.1,1003.5 190.2,989.6 190.3,982.8 190.4,978.1 190.5,974.8 190.6,972.0 190.7,969.5 190.8,967.4 190.9,965.4 190.9,965.4 191.0,963.7 191.1,962.1 191.2,960.5 191.3,959.0 191.4,957.4 191.5,955.7 191.6,953.8 191.7,951.8 191.8,949.8 191.9,947.7 191.9,947.7 192.0,945.6 192.1,943.5 192.2,941.4 192.3,939.4 192.4,937.4 192.5,935.5 192.6,933.6 192.7,931.8 192.8,930.1 192.9,928.4 192.9,928.4 193.0,926.8 193.1,925.2 193.2,923.7 193.3,922.2 193.4,920.7 193.5,919.2 193.6,917.7 193.7,916.2 193.8,914.7 193.9,913.1 193.9,913.1 194.0,911.6 194.1,910.0 194.2,908.5 194.3,906.9 194.4,905.4 194.5,903.8 194.6,902.2 194.7,900.7 194.8,899.1 194.9,897.6 194.9,897.6 195.0,896.0 195.1,894.5 195.2,893.0 195.3,891.5 195.4,890.0 195.5,888.5 195.6,887.1 195.7,885.6 195.8,884.1 195.9,882.7 195.9,882.7 196.0,881.3 196.1,879.9 196.2,878.4 196.3,877.0 196.4,875.6 196.5,874.3 196.6,872.9 196.7,871.5 196.8,870.2 196.9,868.8 196.9,868.8 197.0,867.5 197.1,866.2 197.2,864.8 197.3,863.5 197.4,862.2 197.5,860.9 197.6,859.6 197.7,858.3 197.8,857.0 197.9,855.7 197.9,855.7 198.0,854.5 198.1,853.2 198.2,852.0 198.3,850.7 198.4,849.5 198.5,848.3 198.6,847.1 198.7,845.9 198.8,844.7 198.9,843.6 198.9,843.6 199.0,842.4 199.1,841.3 199.2,840.2 199.3,839.0 199.4,837.9 199.5,836.8 199.6,835.7 199.7,834.6 199.8,833.5 199.9,832.4 199.9,832.4 200.0,831.3 200.1,830.2 200.2,829.1 200.3,828.1 200.4,827.0 200.5,825.9 200.6,824.8 200.7,823.7 200.8,822.6 200.9,821.5 200.9,821.5 201.0,820.4 201.1,819.3 201.2,818.2 201.3,817.1 201.4,816.0 201.5,814.9 201.6,813.8 201.7,812.7 201.8,811.6 201.9,810.5 201.9,810.5 202.0,809.5 202.1,808.4 202.2,807.3 202.3,806.3 202.4,805.2 202.5,804.2 202.6,803.1 202.7,802.1 202.8,801.1 202.9,800.1 202.9,800.1 203.0,799.1 203.1,798.1 203.2,797.2 203.3,796.2 203.4,795.2 203.5,794.3 203.6,793.4 203.7,792.4 203.8,791.5 203.9,790.6 203.9,790.6 204.0,789.7 204.1,788.8 204.2,787.9 204.3,787.0 204.4,786.1 204.5,785.2 204.6,784.3 204.7,783.4 204.8,782.6 204.9,781.7 204.9,781.7 205.0,780.8 205.1,779.9 205.2,779.0 205.3,778.1 205.4,777.3 205.5,776.4 205.6,775.5 205.7,774.6 205.8,773.7 205.9,772.8 205.9,772.8 206.0,771.9 206.1,771.0 206.2,770.1 206.3,769.2 206.4,768.2 206.5,767.3 206.6,766.4 206.7,765.5 206.8,764.6 206.9,763.7 206.9,763.7 207.0,762.8 207.1,761.9 207.2,761.0 207.3,760.1 207.4,759.2 207.5,758.3 207.6,757.4 207.7,756.6 207.8,755.7 207.9,754.8 207.9,754.8 208.0,754.0 208.1,753.2 208.2,752.4 208.3,751.6 208.4,750.8 208.5,750.0 208.6,749.2 208.7,748.5 208.8,747.8 208.9,747.1 208.9,747.1 209.0,746.4 209.1,745.7 209.2,745.0 209.3,744.3 209.4,743.7 209.5,743.0 209.6,742.4 209.7,741.7 209.8,741.1 209.9,740.4 209.9,740.4 210.0,739.8 210.1,739.1 210.2,738.5 210.3,737.8 210.4,737.2 210.5,736.5 210.6,735.8 210.7,735.1 210.8,734.4 210.9,733.6 210.9,733.6 211.0,732.9 211.1,732.1 211.2,731.4 211.3,730.6 211.4,729.8 211.5,729.0 211.6,728.1 211.7,727.3 211.8,726.5 211.9,725.6 211.9,725.6 212.0,724.8 212.1,723.9 212.2,723.1 212.3,722.2 212.4,721.3 212.5,720.4 212.6,719.6 212.7,718.7 212.8,717.8 212.9,716.9 212.9,716.9 213.0,716.1 213.1,715.2 213.2,714.3 213.3,713.4 213.4,712.6 213.5,711.7 213.6,710.8 213.7,710.0 213.8,709.1 213.9,708.3 213.9,708.3 214.0,707.5 214.1,706.6 214.2,705.8 214.3,705.0 214.4,704.1 214.5,703.3 214.6,702.5 214.7,701.6 214.8,700.8 214.9,700.0 214.9,700.0 215.0,699.2 215.1,698.3 215.2,697.5 215.3,696.7 215.4,695.8 215.5,695.0 215.6,694.2 215.7,693.4 215.8,692.6 215.9,691.8 215.9,691.8 216.0,690.9 216.1,690.1 216.2,689.3 216.3,688.5 216.4,687.7 216.5,686.9 216.6,686.1 216.7,685.3 216.8,684.5 216.9,683.7 216.9,683.7 217.0,682.9 217.1,682.1 217.2,681.3 217.3,680.5 217.4,679.8 217.5,679.0 217.6,678.2 217.7,677.4 217.8,676.6 217.9,675.8 217.9,675.8 218.0,675.1 218.1,674.3 218.2,673.5 218.3,672.7 218.4,672.0 218.5,671.2 218.6,670.4 218.7,669.7 218.8,668.9 218.9,668.1 218.9,668.1 219.0,667.4 219.1,666.6 219.2,665.9 219.3,665.1 219.4,664.3 219.5,663.6 219.6,662.8 219.7,662.1 219.8,661.3 219.9,660.6 219.9,660.6 220.0,659.8 220.1,659.1 220.2,658.4 220.3,657.6 220.4,656.9 220.5,656.1 220.6,655.4 220.7,654.7 220.8,654.0 220.9,653.2 220.9,653.2 221.0,652.5 221.1,651.8 221.2,651.1 221.3,650.4 221.4,649.6 221.5,648.9 221.6,648.2 221.7,647.5 221.8,646.8 221.9,646.1 221.9,646.1 222.0,645.4 222.1,644.7 222.2,643.9 222.3,643.2 222.4,642.5 222.5,641.8 222.6,641.1 222.7,640.4 222.8,639.7 222.9,638.9 222.9,638.9 223.0,638.2 223.1,637.5 223.2,636.8 223.3,636.1 223.4,635.3 223.5,634.6 223.6,633.9 223.7,633.1 223.8,632.4 223.9,631.7 223.9,631.7 224.0,630.9 224.1,630.2 224.2,629.5 224.3,628.7 224.4,628.0 224.5,627.2 224.6,626.5 224.7,625.8 224.8,625.0 224.9,624.3 224.9,624.3 225.0,623.5 225.1,622.8 225.2,622.1 225.3,621.3 225.4,620.6 225.5,619.8 225.6,619.1 225.7,618.3 225.8,617.6 225.9,616.9 225.9,616.9 226.0,616.1 226.1,615.4 226.2,614.6 226.3,613.9 226.4,613.2 226.5,612.4 226.6,611.7 226.7,611.0 226.8,610.2 226.9,609.5 226.9,609.5 227.0,608.8 227.1,608.0 227.2,607.3 227.3,606.6 227.4,605.8 227.5,605.1 227.6,604.3 227.7,603.6 227.8,602.9 227.9,602.1 227.9,602.1 228.0,601.4 228.1,600.7 228.2,599.9 228.3,599.2 228.4,598.5 228.5,597.8 228.6,597.0 228.7,596.3 228.8,595.6 228.9,594.9 228.9,594.9 229.0,594.3 229.1,593.6 229.2,592.9 229.3,592.2 229.4,591.6 229.5,590.9 229.6,590.3 229.7,589.6 229.8,589.0 229.9,588.3 229.9,588.3 230.9,582.1 231.9,576.0 232.9,570.1 233.9,564.2 234.9,558.4 235.9,552.7 236.9,547.1 237.9,541.5 238.9,535.9 239.9,530.4 240.9,525.0 241.9,519.6 242.9,514.3 243.9,509.1 244.9,503.9 245.9,498.8 246.9,493.6 247.9,488.3 248.9,483.1 249.9,477.9 250.9,472.7 251.9,467.3 252.9,461.8 253.9,456.4 254.9,451.5 255.9,447.2 256.9,443.1 257.9,438.8 258.9,434.3 259.9,430.0 260.9,425.9 261.9,422.2 262.9,418.5 263.9,414.7 264.9,410.8 265.9,407.0 266.9,403.4 267.9,400.0 268.9,396.7 269.9,393.6 270.9,390.4 271.9,387.2 272.9,384.1 273.9,381.1 274.9,378.3 275.9,375.6 276.9,373.0 277.9,370.5 278.9,368.1 279.9,365.7 280.9,363.3 281.9,361.0 282.9,358.7 283.9,356.5 284.9,354.4 285.9,352.3 286.9,350.2 287.9,348.1 288.9,346.1 289.9,344.2 290.9,342.4 291.9,340.7 292.9,339.1 293.9,337.5 294.9,336.1 295.9,334.8 296.9,333.6 297.9,332.5 298.9,331.4 299.9,330.4 300.9,329.4 301.9,328.4 302.9,327.7 303.9,327.0 304.9,326.4 305.9,325.9 306.9,325.4 307.9,325.0 308.9,324.7 309.9,324.3 310.9,324.0 311.9,323.7 312.9,323.5 313.9,323.2 314.9,323.0 315.9,322.7 316.9,322.3 317.9,321.8 318.9,321.3 319.9,320.7 320.9,320.0 321.9,319.3 322.9,318.5 323.9,317.6 324.9,316.7 325.9,315.7 326.9,314.6 327.9,313.5 328.9,312.2 329.9,310.9 330.9,309.6 331.9,308.2 332.9,306.7 333.9,305.2 334.9,303.7 335.9,302.3 336.9,300.8 337.9,299.4 338.9,298.1 339.9,296.8 340.9,295.6 341.9,294.5 342.9,293.5 343.9,292.6 344.9,291.8 345.9,291.0 346.9,290.3 347.9,289.7 348.9,289.2 349.9,288.8 350.9,288.4 351.9,288.1 352.9,287.8 353.9,287.5 354.9,287.3 355.9,287.1 356.9,286.9 357.9,286.6 358.9,286.4 359.9,286.1 360.9,285.7 361.9,285.2 362.9,284.7 363.9,284.1 364.9,283.4 365.9,282.7 366.9,281.9 367.9,281.1 368.9,280.3 369.9,279.5 370.9,278.6 371.9,277.6 372.9,276.7 373.9,275.7 374.9,274.7 375.9,273.7 376.9,272.7 377.9,271.8 378.9,271.0 379.9,270.3 380.9,269.7 381.9,269.3 382.9,268.9 383.9,268.7 384.9,268.5 385.9,268.3 386.9,268.2 387.9,268.1 388.9,268.0 389.9,267.9 390.9,267.8 391.9,267.8 392.9,267.7 393.9,267.6 394.9,267.4 395.9,267.2 396.9,267.0 397.9,266.6 398.9,266.2 399.9,265.7 400.9,265.2 401.9,264.6 402.9,264.0 403.9,263.5 404.9,262.9 405.9,262.4 406.9,262.0 407.9,261.6 408.9,261.2 409.9,261.0 410.9,260.8 411.9,260.7 412.9,260.6 413.9,260.7 414.9,260.8 415.9,261.0 416.9,261.3 417.9,261.5 418.9,261.8 419.9,262.0 420.9,262.2 421.9,262.3 422.9,262.4 423.9,262.4 424.9,262.3 425.9,262.2 426.9,262.1 427.9,261.9 428.9,261.7 429.9,261.5 430.9,261.4 431.9,261.2 432.9,261.1 433.9,261.1 434.9,261.1 435.9,261.1 436.9,261.3 437.9,261.5 438.9,261.8 439.9,262.2 440.9,262.6 441.9,263.0 442.9,263.5 443.9,264.0 444.9,264.5 445.9,265.0 446.9,265.4 447.9,265.9 448.9,266.3 449.9,266.6 450.9,266.9 451.9,267.2 452.9,267.4 453.9,267.6 454.9,267.7 455.9,267.9 456.9,268.1 457.9,268.3 458.9,268.5 459.9,268.8 460.9,269.2 461.9,269.6 462.9,270.1 463.9,270.7 464.9,271.3 465.9,272.1 466.9,273.0 467.9,273.9 468.9,274.9 469.9,275.9 470.9,276.8 471.9,277.7 472.9,278.5 473.9,279.2 474.9,279.7 475.9,280.2 476.9,280.7 477.9,281.1 478.9,281.6 479.9,282.0 480.9,282.5 481.9,283.0 482.9,283.6 483.9,284.3 484.9,285.1 485.9,286.1 486.9,287.2 487.9,288.5 488.9,289.9 489.9,291.3 490.9,292.7 491.9,294.0 492.9,295.2 493.9,296.2 494.9,297.1 495.9,297.9 496.9,298.6 497.9,299.2 498.9,299.7 499.9,300.2 500.9,300.7 501.9,301.1 502.9,301.6 503.9,302.1 504.9,302.7 505.9,303.3 506.9,304.1 507.9,304.9 508.9,305.7 509.9,306.6 510.9,307.4 511.9,308.2 512.9,308.9 513.9,309.5 514.9,310.0 515.9,310.4 516.9,310.6 517.9,310.8 518.9,310.8 519.9,310.7 520.9,310.5 521.9,310.3 522.9,310.0 523.9,309.7 524.9,309.4 525.9,309.1 526.9,308.8 527.9,308.5 528.9,308.2 529.9,308.0 530.9,307.7 531.9,307.3 532.9,306.8 533.9,306.3 534.9,305.5 535.9,304.7 536.9,303.7 537.9,302.7 538.9,301.5 539.9,300.4 540.9,299.2 541.9,298.1 542.9,297.0 543.9,295.9 544.9,294.9 545.9,294.0 546.9,293.1 547.9,292.3 548.9,291.6 549.9,290.8 550.9,290.1 551.9,289.3 552.9,288.5 553.9,287.6 554.9,286.6 555.9,285.6 556.9,284.5 557.9,283.3 558.9,282.2 559.9,281.1 560.9,280.1 561.9,279.2 562.9,278.4 563.9,277.7 564.9,277.1 565.9,276.6 566.9,276.2 567.9,275.8 568.9,275.3 569.9,274.9 570.9,274.4 571.9,273.8 572.9,273.2 573.9,272.5 574.9,271.8 575.9,271.1 576.9,270.4 577.9,269.7 578.9,269.1 579.9,268.6 580.9,268.2 581.9,267.8 582.9,267.5 583.9,267.3 584.9,267.1 585.9,266.9 586.9,266.7 587.9,266.5 588.9,266.3 589.9,266.1 590.9,265.8 591.9,265.5 592.9,265.2 593.9,264.9 594.9,264.5 595.9,264.3 596.9,264.0 597.9,263.9 598.9,263.8 599.9,263.8 600.9,263.9 601.9,264.1 602.9,264.4 603.9,264.6 604.9,264.9 605.9,265.2 606.9,265.4 607.9,265.5 608.9,265.6 609.9,265.7 610.9,265.7 611.9,265.8 612.9,265.8 613.9,265.9 614.9,266.0 615.9,266.1 616.9,266.4 617.9,266.7 618.9,267.2 619.9,267.7 620.9,268.3 621.9,269.0 622.9,269.7 623.9,270.4 624.9,271.0 625.9,271.6 626.9,272.1 627.9,272.6 628.9,273.1 629.9,273.7 630.9,274.2 631.9,274.8 632.9,275.5 633.9,276.2 634.9,276.9 635.9,277.7 636.9,278.5 637.9,279.4 638.9,280.3 639.9,281.3 640.9,282.2 641.9,283.1 642.9,284.0 643.9,284.9 644.9,285.7 645.9,286.4 646.9,287.1 647.9,287.9 648.9,288.7 649.9,289.5 650.9,290.5 651.9,291.5 652.9,292.5 653.9,293.6 654.9,294.7 655.9,295.6 656.9,296.5 657.9,297.3 658.9,298.0 659.9,298.6 660.9,299.2 661.9,299.7 662.9,300.3 663.9,300.9 664.9,301.4 665.9,302.1 666.9,302.7 667.9,303.4 668.9,304.1 669.9,304.8 670.9,305.3 671.9,305.8 672.9,306.2 673.9,306.5 674.9,306.7 675.9,306.8 676.9,306.8 677.9,306.7 678.9,306.6 679.9,306.4 680.9,306.3 681.9,306.1 682.9,305.8 683.9,305.6 684.9,305.3 685.9,305.0 686.9,304.6 687.9,304.1 688.9,303.6 689.9,303.0 690.9,302.4 691.9,301.7 692.9,300.9 693.9,300.1 694.9,299.3 695.9,298.5 696.9,297.7 697.9,296.9 698.9,296.2 699.9,295.5 700.9,294.8 701.9,294.1 702.9,293.5 703.9,292.9 704.9,292.3 705.9,291.7 706.9,291.0 707.9,290.4 708.9,289.8 709.9,289.1 710.9,288.5 711.9,287.9 712.9,287.2 713.9,286.6 714.9,286.0 715.9,285.4 716.9,284.9 717.9,284.3 718.9,283.8 719.9,283.3 720.9,282.8 721.9,282.3 722.9,281.8 723.9,281.4 724.9,280.9 725.9,280.5 726.9,280.1 727.9,279.8 728.9,279.4 729.9,279.1 730.9,278.7 731.9,278.4 732.9,278.1 733.9,277.8 734.9,277.6 735.9,277.3 736.9,277.0 737.9,276.8 738.9,276.6 739.9,276.5 740.9,276.4 741.9,276.3 742.9,276.3 743.9,276.2 744.9,276.2 745.9,276.2 746.9,276.2 747.9,276.2 748.9,276.3 749.9,276.3 750.9,276.3 751.9,276.3 752.9,276.3 753.9,276.4 754.9,276.4 755.9,276.4 756.9,276.5 757.9,276.6 758.9,276.7 759.9,276.8 760.9,277.0 761.9,277.3 762.9,277.5 763.9,277.8 764.9,278.1 765.9,278.4 766.9,278.6 767.9,278.8 768.9,279.0 769.9,279.2 770.9,279.4 771.9,279.6 772.9,279.9 773.9,280.2 774.9,280.5 775.9,280.9 776.9,281.2 777.9,281.6 778.9,282.0 779.9,282.4 780.9,282.7 781.9,283.0 782.9,283.3 783.9,283.5 784.9,283.7 785.9,283.9 786.9,284.2 787.9,284.4 788.9,284.6 789.9,284.9 790.9,285.1 791.9,285.4 792.9,285.7 793.9,286.0 794.9,286.3 795.9,286.6 796.9,286.9 797.9,287.2 798.9,287.6 799.9,287.9 800.9,288.2 801.9,288.5 802.9,288.9 803.9,289.2 804.9,289.5 805.9,289.9 806.9,290.2 807.9,290.5 808.9,290.8 809.9,291.0 810.9,291.3 811.9,291.5 812.9,291.7 813.9,291.8 814.9,292.0 815.9,292.2 816.9,292.3 817.9,292.4 818.9,292.5 819.9,292.6 820.9,292.7 821.9,292.8 822.9,292.8 823.9,292.9 824.9,292.9 825.9,292.9 826.9,293.0 827.9,293.0 828.9,293.0 829.9,293.0 830.9,293.0 831.9,293.0 832.9,293.0 833.9,293.0 834.9,292.9 835.9,292.9 836.9,292.9 837.9,292.9 838.9,292.8 839.9,292.8 840.9,292.7 841.9,292.6 842.9,292.5 843.9,292.4 844.9,292.2 845.9,292.1 846.9,291.9 847.9,291.8 848.9,291.6 849.9,291.4 850.9,291.2 851.9,290.9 852.9,290.7 853.9,290.4 854.9,290.1 855.9,289.7 856.9,289.4 857.9,289.1 858.9,288.7 859.9,288.4 860.9,288.1 861.9,287.8 862.9,287.4 863.9,287.1 864.9,286.8 865.9,286.5 866.9,286.2 867.9,285.9 868.9,285.6 869.9,285.3 870.9,285.0 871.9,284.8 872.9,284.5 873.9,284.3 874.9,284.1 875.9,283.8 876.9,283.6 877.9,283.4 878.9,283.2 879.9,282.9 880.9,282.6 881.9,282.2 882.9,281.9 883.9,281.5 884.9,281.1 885.9,280.7 886.9,280.4 887.9,280.1 888.9,279.8 889.9,279.6 890.9,279.4 891.9,279.2 892.9,279.0 893.9,278.8 894.9,278.5 895.9,278.3 896.9,278.0 897.9,277.7 898.9,277.4 899.9,277.2 900.9,276.9 901.9,276.8 902.9,276.6 903.9,276.5 904.9,276.5 905.9,276.4 906.9,276.4 907.9,276.3 908.9,276.3 909.9,276.3 910.9,276.3 911.9,276.3 912.9,276.3 913.9,276.2 914.9,276.2 915.9,276.2 916.9,276.2 917.9,276.2 918.9,276.3 919.9,276.3 920.9,276.4 921.9,276.5 922.9,276.7 923.9,276.9 924.9,277.1 925.9,277.4 926.9,277.7 927.9,277.9 928.9,278.2 929.9,278.6 930.9,278.9 931.9,279.2 932.9,279.5 933.9,279.9 934.9,280.3 935.9,280.7 936.9,281.1 937.9,281.5 938.9,282.0 939.9,282.5 940.9,282.9 941.9,283.5 942.9,284.0 943.9,284.5 944.9,285.1 945.9,285.7 946.9,286.2 947.9,286.9 948.9,287.5 949.9,288.1 950.9,288.7 951.9,289.4 952.9,290.0 953.9,290.7 954.9,291.3 955.9,291.9 956.9,292.5 957.9,293.1 958.9,293.8 959.9,294.4 960.9,295.1 961.9,295.8 962.9,296.5 963.9,297.2 964.9,298.0 965.9,298.8 966.9,299.6 967.9,300.4 968.9,301.2 969.9,301.9 970.9,302.6 971.9,303.2 972.9,303.8 973.9,304.3 974.9,304.7 975.9,305.1 976.9,305.4 977.9,305.7 978.9,305.9 979.9,306.2 980.9,306.3 981.9,306.5 982.9,306.6 983.9,306.7 984.9,306.8 985.9,306.8 986.9,306.6 987.9,306.4 988.9,306.1 989.9,305.7 990.9,305.1 991.9,304.5 992.9,303.8 993.9,303.1 994.9,302.5 995.9,301.8 996.9,301.2 997.9,300.6 998.9,300.1 999.9,299.5 1000.9,299.0 1001.9,298.4 1002.9,297.7 1003.9,297.0 1004.9,296.2 1005.9,295.3 1006.9,294.2 1007.9,293.2 1008.9,292.1 1009.9,291.1 1010.9,290.1 1011.9,289.2 1012.9,288.3 1013.9,287.6 1014.9,286.8 1015.9,286.1 1016.9,285.4 1017.9,284.6 1018.9,283.7 1019.9,282.8 1020.9,281.8 1021.9,280.9 1022.9,279.9 1023.9,279.0 1024.9,278.2 1025.9,277.3 1026.9,276.6 1027.9,275.9 1028.9,275.2 1029.9,274.6 1030.9,274.0 1031.9,273.5 1032.9,272.9 1033.9,272.4 1034.9,271.9 1035.9,271.3 1036.9,270.8 1037.9,270.1 1038.9,269.4 1039.9,268.8 1040.9,268.1 1041.9,267.5 1042.9,267.0 1043.9,266.6 1044.9,266.3 1045.9,266.1 1046.9,265.9 1047.9,265.9 1048.9,265.8 1049.9,265.8 1050.9,265.7 1051.9,265.7 1052.9,265.6 1053.9,265.5 1054.9,265.3 1055.9,265.1 1056.9,264.8 1057.9,264.5 1058.9,264.3 1059.9,264.0 1060.9,263.9 1061.9,263.8 1062.9,263.8 1063.9,263.9 1064.9,264.1 1065.9,264.4 1066.9,264.7 1067.9,265.0 1068.9,265.3 1069.9,265.6 1070.9,265.9 1071.9,266.2 1072.9,266.4 1073.9,266.6 1074.9,266.8 1075.9,267.0 1076.9,267.2 1077.9,267.4 1078.9,267.6 1079.9,267.9 1080.9,268.3 1081.9,268.8 1082.9,269.4 1083.9,270.0 1084.9,270.7 1085.9,271.4 1086.9,272.1 1087.9,272.8 1088.9,273.5 1089.9,274.1 1090.9,274.6 1091.9,275.1 1092.9,275.5 1093.9,275.9 1094.9,276.4 1095.9,276.8 1096.9,277.4 1097.9,278.0 1098.9,278.7 1099.9,279.5 1100.9,280.5 1101.9,281.5 1102.9,282.6 1103.9,283.8 1104.9,284.9 1105.9,286.0 1106.9,287.0 1107.9,288.0 1108.9,288.8 1109.9,289.6 1110.9,290.4 1111.9,291.1 1112.9,291.9 1113.9,292.6 1114.9,293.5 1115.9,294.4 1116.9,295.3 1117.9,296.3 1118.9,297.4 1119.9,298.5 1120.9,299.7 1121.9,300.8 1122.9,302.0 1123.9,303.1 1124.9,304.1 1125.9,305.1 1126.9,305.8 1127.9,306.5 1128.9,307.0 1129.9,307.4 1130.9,307.8 1131.9,308.1 1132.9,308.3 1133.9,308.6 1134.9,308.9 1135.9,309.2 1136.9,309.5 1137.9,309.8 1138.9,310.1 1139.9,310.4 1140.9,310.6 1141.9,310.7 1142.9,310.8 1143.9,310.7 1144.9,310.5 1145.9,310.2 1146.9,309.8 1147.9,309.3 1148.9,308.6 1149.9,307.9 1150.9,307.1 1151.9,306.2 1152.9,305.4 1153.9,304.5 1154.9,303.8 1155.9,303.1 1156.9,302.4 1157.9,301.9 1158.9,301.4 1159.9,300.9 1160.9,300.5 1161.9,300.0 1162.9,299.5 1163.9,298.9 1164.9,298.3 1165.9,297.6 1166.9,296.8 1167.9,295.8 1168.9,294.7 1169.9,293.5 1170.9,292.2 1171.9,290.8 1172.9,289.3 1173.9,288.0 1174.9,286.8 1175.9,285.7 1176.9,284.8 1177.9,284.0 1178.9,283.3 1179.9,282.8 1180.9,282.3 1181.9,281.8 1182.9,281.4 1183.9,281.0 1184.9,280.5 1185.9,280.1 1186.9,279.5 1187.9,278.9 1188.9,278.2 1189.9,277.3 1190.9,276.4 1191.9,275.5 1192.9,274.5 1193.9,273.5 1194.9,272.6 1195.9,271.8 1196.9,271.1 1197.9,270.4 1198.9,269.9 1199.9,269.4 1200.9,269.0 1201.9,268.7 1202.9,268.4 1203.9,268.2 1204.9,268.0 1205.9,267.8 1206.9,267.7 1207.9,267.5 1208.9,267.3 1209.9,267.1 1210.9,266.8 1211.9,266.5 1212.9,266.1 1213.9,265.7 1214.9,265.2 1215.9,264.8 1216.9,264.3 1217.9,263.8 1218.9,263.3 1219.9,262.8 1220.9,262.4 1221.9,262.0 1222.9,261.7 1223.9,261.4 1224.9,261.2 1225.9,261.1 1226.9,261.0 1227.9,261.1 1228.9,261.1 1229.9,261.3 1230.9,261.4 1231.9,261.6 1232.9,261.8 1233.9,262.0 1234.9,262.1 1235.9,262.3 1236.9,262.3 1237.9,262.4 1238.9,262.4 1239.9,262.3 1240.9,262.1 1241.9,261.9 1242.9,261.7 1243.9,261.4 1244.9,261.2 1245.9,261.0 1246.9,260.8 1247.9,260.7 1248.9,260.6 1249.9,260.7 1250.9,260.8 1251.9,261.1 1252.9,261.4 1253.9,261.7 1254.9,262.2 1255.9,262.6 1256.9,263.1 1257.9,263.7 1258.9,264.2 1259.9,264.8 1260.9,265.4 1261.9,265.9 1262.9,266.4 1263.9,266.8 1264.9,267.1 1265.9,267.3 1266.9,267.5 1267.9,267.6 1268.9,267.7 1269.9,267.8 1270.9,267.9 1271.9,268.0 1272.9,268.0 1273.9,268.1 1274.9,268.3 1275.9,268.4 1276.9,268.6 1277.9,268.8 1278.9,269.1 1279.9,269.5 1280.9,270.0 1281.9,270.6 1282.9,271.3 1283.9,272.2 1284.9,273.1 1285.9,274.1 1286.9,275.1 1287.9,276.1 1288.9,277.1 1289.9,278.0 1290.9,278.9 1291.9,279.8 1292.9,280.6 1293.9,281.5 1294.9,282.2 1295.9,283.0 1296.9,283.7 1297.9,284.3 1298.9,284.9 1299.9,285.4 1300.9,285.8 1301.9,286.2 1302.9,286.5 1303.9,286.7 1304.9,286.9 1305.9,287.2 1306.9,287.4 1307.9,287.6 1308.9,287.9 1309.9,288.2 1310.9,288.5 1311.9,288.9 1312.9,289.4 1313.9,290.0 1314.9,290.6 1315.9,291.3 1316.9,292.1 1317.9,293.0 1318.9,293.9 1319.9,295.0 1320.9,296.1 1321.9,297.3 1322.9,298.6 1323.9,299.9 1324.9,301.4 1325.9,302.8 1326.9,304.3 1327.9,305.8 1328.9,307.3 1329.9,308.7 1330.9,310.1 1331.9,311.5 1332.9,312.7 1333.9,313.9 1334.9,315.0 1335.9,316.1 1336.9,317.1 1337.9,318.0 1338.9,318.8 1339.9,319.6 1340.9,320.3 1341.9,320.9 1342.9,321.5 1343.9,322.0 1344.9,322.5 1345.9,322.8 1346.9,323.1 1347.9,323.3 1348.9,323.6 1349.9,323.9 1350.9,324.2 1351.9,324.5 1352.9,324.8 1353.9,325.2 1354.9,325.6 1355.9,326.1 1356.9,326.7 1357.9,327.3 1358.9,328.0 1359.9,328.8 1360.9,329.8 1361.9,330.8 1362.9,331.8 1363.9,332.9 1364.9,334.1 1365.9,335.3 1366.9,336.7 1367.9,338.1 1368.9,339.7 1369.9,341.3 1370.9,343.1 1371.9,345.0 1372.9,346.9 1373.9,348.9 1374.9,351.0 1375.9,353.1 1376.9,355.2 1377.9,357.4 1378.9,359.6 1379.9,361.9 1380.9,364.3 1381.9,366.7 1382.9,369.1 1383.9,371.5 1384.9,374.0 1385.9,376.6 1386.9,379.4 1387.9,382.3 1388.9,385.4 1389.9,388.5 1390.9,391.7 1391.9,394.8 1392.9,398.0 1393.9,401.3 1394.9,404.8 1395.9,408.5 1396.9,412.4 1397.9,416.2 1398.9,420.0 1399.9,423.7 1400.9,427.5 1401.9,431.7 1402.9,436.1 1403.9,440.6 1404.9,444.8 1405.9,448.9 1406.9,453.4 1407.9,458.5 1408.9,464.0 1409.9,469.5 1410.9,474.8 1411.9,480.0 1412.9,485.2 1413.9,490.4 1414.9,495.6 1415.9,500.8 1416.9,506.0 1417.9,511.2 1418.9,516.4 1419.9,521.8 1420.9,527.2 1421.9,532.6 1422.9,538.1 1423.9,543.7 1424.9,549.3 1425.9,555.0 1426.9,560.7 1427.9,566.5 1428.9,572.4 1429.9,578.4 1430.9,584.5 1431.4,587.7 1431.5,588.3 1431.6,589.0 1431.7,589.6 1431.8,590.3 1431.9,590.9 1431.9,590.9 1432.0,591.6 1432.1,592.2 1432.2,592.9 1432.3,593.6 1432.4,594.3 1432.5,594.9 1432.6,595.6 1432.7,596.3 1432.8,597.0 1432.9,597.8 1432.9,597.8 1433.0,598.5 1433.1,599.2 1433.2,599.9 1433.3,600.7 1433.4,601.4 1433.5,602.1 1433.6,602.9 1433.7,603.6 1433.8,604.3 1433.9,605.1 1433.9,605.1 1434.0,605.8 1434.1,606.6 1434.2,607.3 1434.3,608.0 1434.4,608.8 1434.5,609.5 1434.6,610.2 1434.7,611.0 1434.8,611.7 1434.9,612.4 1434.9,612.4 1435.0,613.2 1435.1,613.9 1435.2,614.6 1435.3,615.4 1435.4,616.1 1435.5,616.9 1435.6,617.6 1435.7,618.3 1435.8,619.1 1435.9,619.8 1435.9,619.8 1436.0,620.6 1436.1,621.3 1436.2,622.1 1436.3,622.8 1436.4,623.5 1436.5,624.3 1436.6,625.0 1436.7,625.8 1436.8,626.5 1436.9,627.2 1436.9,627.2 1437.0,628.0 1437.1,628.7 1437.2,629.5 1437.3,630.2 1437.4,630.9 1437.5,631.7 1437.6,632.4 1437.7,633.1 1437.8,633.9 1437.9,634.6 1437.9,634.6 1438.0,635.3 1438.1,636.1 1438.2,636.8 1438.3,637.5 1438.4,638.2 1438.5,638.9 1438.6,639.7 1438.7,640.4 1438.8,641.1 1438.9,641.8 1438.9,641.8 1439.0,642.5 1439.1,643.2 1439.2,643.9 1439.3,644.7 1439.4,645.4 1439.5,646.1 1439.6,646.8 1439.7,647.5 1439.8,648.2 1439.9,648.9 1439.9,648.9 1440.0,649.6 1440.1,650.4 1440.2,651.1 1440.3,651.8 1440.4,652.5 1440.5,653.2 1440.6,654.0 1440.7,654.7 1440.8,655.4 1440.9,656.1 1440.9,656.1 1441.0,656.9 1441.1,657.6 1441.2,658.4 1441.3,659.1 1441.4,659.8 1441.5,660.6 1441.6,661.3 1441.7,662.1 1441.8,662.8 1441.9,663.6 1441.9,663.6 1442.0,664.3 1442.1,665.1 1442.2,665.9 1442.3,666.6 1442.4,667.4 1442.5,668.1 1442.6,668.9 1442.7,669.7 1442.8,670.4 1442.9,671.2 1442.9,671.2 1443.0,672.0 1443.1,672.7 1443.2,673.5 1443.3,674.3 1443.4,675.1 1443.5,675.8 1443.6,676.6 1443.7,677.4 1443.8,678.2 1443.9,679.0 1443.9,679.0 1444.0,679.8 1444.1,680.5 1444.2,681.3 1444.3,682.1 1444.4,682.9 1444.5,683.7 1444.6,684.5 1444.7,685.3 1444.8,686.1 1444.9,686.9 1444.9,686.9 1445.0,687.7 1445.1,688.5 1445.2,689.3 1445.3,690.1 1445.4,690.9 1445.5,691.8 1445.6,692.6 1445.7,693.4 1445.8,694.2 1445.9,695.0 1445.9,695.0 1446.0,695.8 1446.1,696.7 1446.2,697.5 1446.3,698.3 1446.4,699.2 1446.5,700.0 1446.6,700.8 1446.7,701.6 1446.8,702.5 1446.9,703.3 1446.9,703.3 1447.0,704.1 1447.1,705.0 1447.2,705.8 1447.3,706.6 1447.4,707.5 1447.5,708.3 1447.6,709.1 1447.7,710.0 1447.8,710.8 1447.9,711.7 1447.9,711.7 1448.0,712.6 1448.1,713.4 1448.2,714.3 1448.3,715.2 1448.4,716.1 1448.5,716.9 1448.6,717.8 1448.7,718.7 1448.8,719.6 1448.9,720.4 1448.9,720.4 1449.0,721.3 1449.1,722.2 1449.2,723.1 1449.3,723.9 1449.4,724.8 1449.5,725.6 1449.6,726.5 1449.7,727.3 1449.8,728.1 1449.9,729.0 1449.9,729.0 1450.0,729.8 1450.1,730.6 1450.2,731.4 1450.3,732.1 1450.4,732.9 1450.5,733.6 1450.6,734.4 1450.7,735.1 1450.8,735.8 1450.9,736.5 1450.9,736.5 1451.0,737.2 1451.1,737.8 1451.2,738.5 1451.3,739.1 1451.4,739.8 1451.5,740.4 1451.6,741.1 1451.7,741.7 1451.8,742.4 1451.9,743.0 1451.9,743.0 1452.0,743.7 1452.1,744.3 1452.2,745.0 1452.3,745.7 1452.4,746.4 1452.5,747.1 1452.6,747.8 1452.7,748.5 1452.8,749.2 1452.9,750.0 1452.9,750.0 1453.0,750.8 1453.1,751.6 1453.2,752.4 1453.3,753.2 1453.4,754.0 1453.5,754.8 1453.6,755.7 1453.7,756.6 1453.8,757.4 1453.9,758.3 1453.9,758.3 1454.0,759.2 1454.1,760.1 1454.2,761.0 1454.3,761.9 1454.4,762.8 1454.5,763.7 1454.6,764.6 1454.7,765.5 1454.8,766.4 1454.9,767.3 1454.9,767.3 1455.0,768.2 1455.1,769.2 1455.2,770.1 1455.3,771.0 1455.4,771.9 1455.5,772.8 1455.6,773.7 1455.7,774.6 1455.8,775.5 1455.9,776.4 1455.9,776.4 1456.0,777.3 1456.1,778.1 1456.2,779.0 1456.3,779.9 1456.4,780.8 1456.5,781.7 1456.6,782.6 1456.7,783.4 1456.8,784.3 1456.9,785.2 1456.9,785.2 1457.0,786.1 1457.1,787.0 1457.2,787.9 1457.3,788.8 1457.4,789.7 1457.5,790.6 1457.6,791.5 1457.7,792.4 1457.8,793.4 1457.9,794.3 1457.9,794.3 1458.0,795.2 1458.1,796.2 1458.2,797.2 1458.3,798.1 1458.4,799.1 1458.5,800.1 1458.6,801.1 1458.7,802.1 1458.8,803.1 1458.9,804.2 1458.9,804.2 1459.0,805.2 1459.1,806.3 1459.2,807.3 1459.3,808.4 1459.4,809.5 1459.5,810.5 1459.6,811.6 1459.7,812.7 1459.8,813.8 1459.9,814.9 1459.9,814.9 1460.0,816.0 1460.1,817.1 1460.2,818.2 1460.3,819.3 1460.4,820.4 1460.5,821.5 1460.6,822.6 1460.7,823.7 1460.8,824.8 1460.9,825.9 1460.9,825.9 1461.0,827.0 1461.1,828.1 1461.2,829.1 1461.3,830.2 1461.4,831.3 1461.5,832.4 1461.6,833.5 1461.7,834.6 1461.8,835.7 1461.9,836.8 1461.9,836.8 1462.0,837.9 1462.1,839.0 1462.2,840.2 1462.3,841.3 1462.4,842.4 1462.5,843.6 1462.6,844.7 1462.7,845.9 1462.8,847.1 1462.9,848.3 1462.9,848.3 1463.0,849.5 1463.1,850.7 1463.2,852.0 1463.3,853.2 1463.4,854.5 1463.5,855.7 1463.6,857.0 1463.7,858.3 1463.8,859.6 1463.9,860.9 1463.9,860.9 1464.0,862.2 1464.1,863.5 1464.2,864.8 1464.3,866.2 1464.4,867.5 1464.5,868.8 1464.6,870.2 1464.7,871.5 1464.8,872.9 1464.9,874.3 1464.9,874.3 1465.0,875.6 1465.1,877.0 1465.2,878.4 1465.3,879.9 1465.4,881.3 1465.5,882.7 1465.6,884.1 1465.7,885.6 1465.8,887.1 1465.9,888.5 1465.9,888.5 1466.0,890.0 1466.1,891.5 1466.2,893.0 1466.3,894.5 1466.4,896.0 1466.5,897.6 1466.6,899.1 1466.7,900.7 1466.8,902.2 1466.9,903.8 1466.9,903.8 1467.0,905.4 1467.1,906.9 1467.2,908.5 1467.3,910.0 1467.4,911.6 1467.5,913.1 1467.6,914.7 1467.7,916.2 1467.8,917.7 1467.9,919.2 1467.9,919.2 1468.0,920.7 1468.1,922.2 1468.2,923.7 1468.3,925.2 1468.4,926.8 1468.5,928.4 1468.6,930.1 1468.7,931.8 1468.8,933.6 1468.9,935.5 1468.9,935.5 1469.0,937.4 1469.1,939.4 1469.2,941.4 1469.3,943.5 1469.4,945.6 1469.5,947.7 1469.6,949.8 1469.7,951.8 1469.8,953.8 1469.9,955.7 1469.9,955.7 1470.0,957.4 1470.1,959.0 1470.2,960.5 1470.3,962.1 1470.4,963.7 1470.5,965.4 1470.6,967.4 1470.7,969.5 1470.8,972.0 1470.9,974.8 1470.9,974.8 1471.0,978.1 1471.1,982.8 1471.2,989.6 1471.3,1003.5 1471.4,1030.0 1471.5,1100.0" stroke="#ff0000" stroke-width="7.0"/>
<line x1="327.5" y1="28.2" x2="327.5" y2="989.5" stroke="#000" stroke-width="3" stroke-dasharray="23.2 12.9"/>
<line x1="1333.5" y1="28.2" x2="1333.5" y2="989.5" stroke="#000" stroke-width="3" stroke-dasharray="23.2 12.9"/>
</g>
<rect x="808.5" y="872.5" width="659.0" height="108.0" fill="#fff" stroke="#222222" stroke-width="3"/>
<line x1="819" y1="901.4" x2="939.9" y2="901.4" stroke="#0000ff" stroke-width="7.0"/>
<line x1="819" y1="951" x2="939.9" y2="951" stroke="#ff0000" stroke-width="6.2"/>
<g font-family="'Liberation Serif', 'Times New Roman', serif" font-size="42.8" fill="#000">
<text x="948.5" y="917">Static joint beam-pattern</text>
<text x="948.5" y="966.5">Optimized joint beam-pattern</text>
</g>
<g font-family="'Liberation Serif', 'Times New Roman', serif" font-size="47.0" fill="#222222">
<text x="255.5" y="1050.3" text-anchor="middle">-80</text>
<text x="399.3" y="1050.3" text-anchor="middle">-60</text>
<text x="543.0" y="1050.3" text-anchor="middle">-40</text>
<text x="686.8" y="1050.3" text-anchor="middle">-20</text>
<text x="830.6" y="1050.3" text-anchor="middle">0</text>
<text x="974.4" y="1050.3" text-anchor="middle">20</text>
<text x="1118.2" y="1050.3" text-anchor="middle">40</text>
<text x="1261.9" y="1050.3" text-anchor="middle">60</text>
<text x="1405.7" y="1050.3" text-anchor="middle">80</text>
<text x="165.7" y="45.9" text-anchor="end">0</text>
<text x="165.7" y="142.0" text-anchor="end">-10</text>
<text x="165.7" y="238.1" text-anchor="end">-20</text>
<text x="165.7" y="334.2" text-anchor="end">-30</text>
<text x="165.7" y="430.3" text-anchor="end">-40</text>
<text x="165.7" y="526.4" text-anchor="end">-50</text>
<text x="165.7" y="622.5" text-anchor="end">-60</text>
<text x="165.7" y="718.6" text-anchor="end">-70</text>
<text x="165.7" y="814.7" text-anchor="end">-80</text>
<text x="165.7" y="910.8" text-anchor="end">-90</text>
<text x="165.7" y="1006.9" text-anchor="end">-100</text>
</g>
<g font-family="'Liberation Serif', 'Times New Roman', serif" font-size="50.6" fill="#222222">
<text x="757" y="1113">angle/<tspan dx="8.5" dy="1">°</tspan></text>
<text transform="translate(55,510.2) rotate(-90)" text-anchor="middle" font-size="49.5">Normalized beam gain/dB</text>
</g>
</svg>
</body></html>
